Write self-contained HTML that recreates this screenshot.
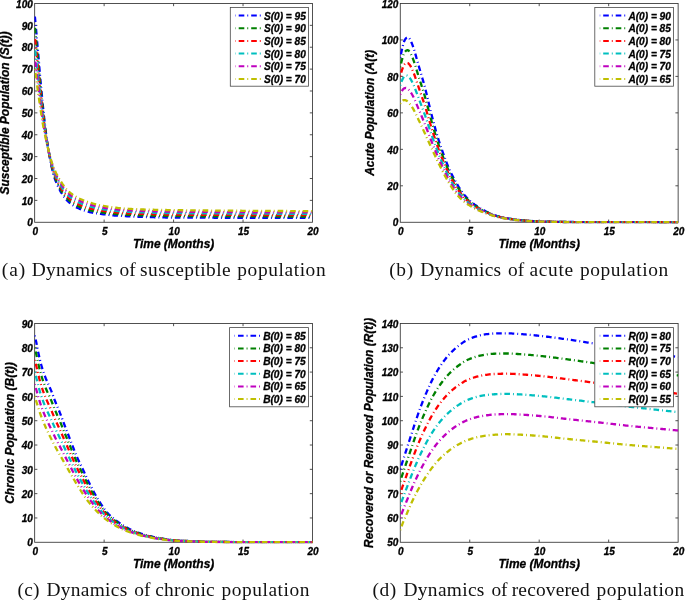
<!DOCTYPE html>
<html lang="en"><head><meta charset="utf-8"><title>Population dynamics</title>
<style>html,body{margin:0;padding:0;background:#fff}svg{display:block;will-change:transform}.t{font-family:"Liberation Sans",Arial,Helvetica,sans-serif;font-weight:bold;font-style:italic;fill:#000;stroke:#000;stroke-width:0.3px;stroke-linejoin:round}.tk{font-size:10px}.lb{font-size:11.95px}.lg{font-size:10.15px}.cap{font-family:"Liberation Serif","Times New Roman",serif;font-size:19.4px;fill:#111}.c{fill:none;stroke-width:2.3;stroke-dasharray:5.6 3 0.9 3;stroke-linejoin:round}.ax{fill:none;stroke:#333;stroke-width:0.85}</style></head><body>
<svg width="685" height="600" viewBox="0 0 685 600">
<rect width="685" height="600" fill="#fff"/>
<g>
<clipPath id="cp0"><rect x="34.47" y="2.47" width="278.53" height="221.1"/></clipPath>
<rect class="ax" x="34.67" y="3.47" width="277.83" height="218.8"/>
<path class="ax" d="M104.13,222.27v-2.7 M104.13,3.47v2.7 M173.58,222.27v-2.7 M173.58,3.47v2.7 M243.04,222.27v-2.7 M243.04,3.47v2.7 M34.67,200.39h2.7 M312.5,200.39h-2.7 M34.67,178.51h2.7 M312.5,178.51h-2.7 M34.67,156.63h2.7 M312.5,156.63h-2.7 M34.67,134.75h2.7 M312.5,134.75h-2.7 M34.67,112.87h2.7 M312.5,112.87h-2.7 M34.67,90.99h2.7 M312.5,90.99h-2.7 M34.67,69.11h2.7 M312.5,69.11h-2.7 M34.67,47.23h2.7 M312.5,47.23h-2.7 M34.67,25.35h2.7 M312.5,25.35h-2.7"/>
<g clip-path="url(#cp0)">
<path class="c" stroke="#0000ff" stroke-dashoffset="10.4" d="M34.67,14.41 34.81,15.84 34.95,17.28 35.09,18.73 35.23,20.19 35.36,21.67 35.5,23.16 35.64,24.67 35.78,26.19 35.92,27.72 36.06,29.27 36.2,30.82 36.34,32.38 36.48,33.95 36.61,35.53 36.75,37.12 36.89,38.71 37.03,40.3 37.17,41.88 37.31,43.47 37.45,45.04 37.59,46.6 37.73,48.15 37.87,49.7 38,51.24 38.14,52.8 38.28,54.38 38.42,55.98 38.56,57.62 38.7,59.3 38.84,61 38.98,62.73 39.12,64.46 39.25,66.19 39.39,67.92 39.53,69.63 39.67,71.32 39.81,72.97 39.95,74.58 40.09,76.15 40.23,77.69 40.37,79.21 40.5,80.71 40.64,82.2 40.78,83.67 40.92,85.14 41.06,86.61 41.2,88.09 41.34,89.56 41.48,91.04 41.62,92.52 41.75,93.99 41.89,95.46 42.03,96.92 42.17,98.38 42.31,99.83 42.45,101.26 42.59,102.69 42.73,104.1 42.87,105.5 43,106.88 43.14,108.24 43.28,109.59 43.42,110.92 43.56,112.25 43.7,113.57 43.84,114.88 43.98,116.18 44.12,117.46 44.26,118.74 44.39,119.99 44.53,121.23 44.67,122.45 44.81,123.65 44.95,124.82 45.09,125.97 45.23,127.09 45.37,128.2 45.51,129.3 45.64,130.4 45.78,131.49 45.92,132.57 46.06,133.65 46.2,134.71 46.34,135.77 46.48,136.82 46.62,137.86 46.76,138.89 46.89,139.91 47.03,140.91 47.17,141.9 47.31,142.88 47.45,143.85 47.59,144.8 47.73,145.73 47.87,146.65 48.01,147.56 48.14,148.44 48.28,149.31 48.42,150.16 48.56,150.98 48.7,151.79 48.84,152.58 49.12,154.1 49.39,155.6 49.67,157.08 49.95,158.54 50.23,159.98 50.51,161.4 50.78,162.79 51.06,164.16 51.34,165.49 51.62,166.8 51.9,168.06 52.17,169.3 52.45,170.49 52.73,171.65 53.01,172.76 53.28,173.82 53.56,174.85 53.84,175.82 54.12,176.74 54.4,177.6 54.67,178.41 54.95,179.17 55.37,180.24 55.79,181.28 56.2,182.3 56.62,183.29 57.04,184.26 57.45,185.2 57.87,186.11 58.29,187 58.7,187.86 59.12,188.7 59.54,189.52 59.95,190.31 60.37,191.08 60.79,191.82 61.2,192.54 61.62,193.24 62.18,194.14 62.73,194.99 63.29,195.81 63.84,196.6 64.4,197.34 64.95,198.05 65.51,198.73 66.06,199.37 66.62,199.98 67.32,200.69 68.01,201.36 68.7,202 69.4,202.61 70.09,203.2 70.79,203.76 71.48,204.29 72.18,204.79 72.87,205.27 73.57,205.73 74.26,206.16 74.96,206.57 75.79,207.03 77.04,207.66 78.43,208.29 79.82,208.88 81.21,209.43 82.6,209.94 83.98,210.43 85.37,210.88 86.76,211.29 88.15,211.68 89.54,212.03 90.93,212.35 92.32,212.64 93.71,212.91 95.1,213.15 96.49,213.37 97.88,213.58 99.27,213.77 100.65,213.96 102.04,214.13 103.43,214.31 104.82,214.48 106.21,214.65 107.6,214.82 108.99,214.98 110.38,215.13 111.77,215.26 113.16,215.38 114.55,215.48 115.94,215.57 117.32,215.67 118.71,215.76 120.1,215.85 121.49,215.93 122.88,216.02 124.27,216.09 125.66,216.17 127.05,216.25 128.44,216.32 129.83,216.39 131.22,216.45 132.61,216.51 133.99,216.58 135.38,216.63 136.77,216.69 138.16,216.74 139.55,216.8 140.94,216.84 142.33,216.89 143.72,216.94 145.11,216.98 146.5,217.02 147.89,217.06 149.27,217.1 150.66,217.13 152.05,217.17 153.44,217.21 154.83,217.24 156.22,217.28 157.61,217.31 159,217.34 160.39,217.37 161.78,217.4 163.17,217.43 164.56,217.46 165.94,217.48 167.33,217.5 168.72,217.52 170.11,217.54 171.5,217.55 172.89,217.56 174.28,217.57 175.67,217.58 177.06,217.59 178.45,217.59 179.84,217.6 181.23,217.61 182.61,217.62 184,217.62 185.39,217.63 186.78,217.64 188.17,217.64 189.56,217.65 190.95,217.65 192.34,217.66 193.73,217.66 195.12,217.67 196.51,217.67 197.9,217.68 199.28,217.68 200.67,217.69 202.06,217.69 203.45,217.7 204.84,217.7 206.23,217.7 207.62,217.71 209.01,217.71 210.4,217.72 211.79,217.72 213.18,217.72 214.56,217.73 215.95,217.73 217.34,217.73 218.73,217.74 220.12,217.74 221.51,217.74 222.9,217.74 224.29,217.75 225.68,217.75 227.07,217.75 228.46,217.76 229.85,217.76 231.23,217.76 232.62,217.76 234.01,217.77 235.4,217.77 236.79,217.77 238.18,217.77 239.57,217.78 240.96,217.78 242.35,217.78 243.74,217.79 245.13,217.79 246.52,217.79 247.9,217.79 249.29,217.8 250.68,217.8 252.07,217.8 253.46,217.81 254.85,217.81 256.24,217.81 257.63,217.81 259.02,217.82 260.41,217.82 261.8,217.82 263.19,217.82 264.57,217.83 265.96,217.83 267.35,217.83 268.74,217.84 270.13,217.84 271.52,217.84 272.91,217.84 274.3,217.84 275.69,217.85 277.08,217.85 278.47,217.85 279.85,217.85 281.24,217.86 282.63,217.86 284.02,217.86 285.41,217.86 286.8,217.86 288.19,217.87 289.58,217.87 290.97,217.87 292.36,217.87 293.75,217.87 295.14,217.88 296.52,217.88 297.91,217.88 299.3,217.88 300.69,217.88 302.08,217.88 303.47,217.89 304.86,217.89 306.25,217.89 307.64,217.89 309.03,217.89 310.42,217.89 311.81,217.89 312.5,217.89"/>
<path class="c" stroke="#008000" stroke-dashoffset="10.04" d="M34.67,25.35 34.81,26.61 34.95,27.89 35.09,29.18 35.23,30.5 35.36,31.82 35.5,33.17 35.64,34.53 35.78,35.92 35.92,37.31 36.06,38.73 36.2,40.17 36.34,41.63 36.48,43.1 36.61,44.59 36.75,46.09 36.89,47.6 37.03,49.1 37.17,50.61 37.31,52.1 37.45,53.58 37.59,55.04 37.73,56.49 37.87,57.93 38,59.36 38.14,60.81 38.28,62.27 38.42,63.74 38.56,65.25 38.7,66.78 38.84,68.34 38.98,69.91 39.12,71.49 39.25,73.07 39.39,74.64 39.53,76.2 39.67,77.74 39.81,79.25 39.95,80.73 40.09,82.17 40.23,83.59 40.37,84.99 40.5,86.38 40.64,87.75 40.78,89.11 40.92,90.47 41.06,91.83 41.2,93.19 41.34,94.55 41.48,95.92 41.62,97.28 41.75,98.64 41.89,100 42.03,101.35 42.17,102.69 42.31,104.02 42.45,105.34 42.59,106.65 42.73,107.94 42.87,109.22 43,110.48 43.14,111.73 43.28,112.95 43.42,114.17 43.56,115.37 43.7,116.57 43.84,117.76 43.98,118.94 44.12,120.11 44.26,121.26 44.39,122.4 44.53,123.52 44.67,124.63 44.81,125.72 44.95,126.79 45.09,127.84 45.23,128.86 45.37,129.88 45.51,130.88 45.64,131.89 45.78,132.89 45.92,133.88 46.06,134.87 46.2,135.85 46.34,136.82 46.48,137.79 46.62,138.74 46.76,139.69 46.89,140.63 47.03,141.55 47.17,142.47 47.31,143.37 47.45,144.27 47.59,145.15 47.73,146.01 47.87,146.87 48.01,147.71 48.14,148.53 48.28,149.34 48.42,150.13 48.7,151.67 48.98,153.13 49.26,154.55 49.53,155.96 49.81,157.35 50.09,158.73 50.37,160.08 50.65,161.41 50.92,162.71 51.2,163.98 51.48,165.22 51.76,166.42 52.03,167.58 52.31,168.71 52.59,169.8 52.87,170.86 53.15,171.88 53.42,172.86 53.7,173.8 53.98,174.69 54.26,175.54 54.53,176.34 54.81,177.1 55.23,178.15 55.65,179.17 56.06,180.17 56.48,181.13 56.9,182.07 57.31,182.97 57.73,183.86 58.15,184.73 58.56,185.57 58.98,186.39 59.4,187.19 59.81,187.97 60.23,188.73 60.65,189.47 61.06,190.18 61.48,190.88 62.04,191.77 62.59,192.63 63.15,193.46 63.7,194.25 64.26,195 64.81,195.73 65.37,196.41 65.93,197.07 66.48,197.69 67.04,198.28 67.73,198.98 68.43,199.64 69.12,200.27 69.82,200.86 70.51,201.43 71.2,201.97 71.9,202.49 72.59,202.98 73.29,203.45 73.98,203.9 74.68,204.32 75.37,204.72 76.21,205.18 77.04,205.61 78.43,206.26 79.82,206.86 81.21,207.43 82.6,207.96 83.98,208.46 85.37,208.92 86.76,209.35 88.15,209.76 89.54,210.13 90.93,210.47 92.32,210.79 93.71,211.08 95.1,211.35 96.49,211.59 97.88,211.83 99.27,212.05 100.65,212.25 102.04,212.45 103.43,212.64 104.82,212.82 106.21,213 107.6,213.18 108.99,213.35 110.38,213.51 111.77,213.66 113.16,213.78 114.55,213.9 115.94,214.01 117.32,214.12 118.71,214.22 120.1,214.32 121.49,214.41 122.88,214.5 124.27,214.58 125.66,214.66 127.05,214.74 128.44,214.81 129.83,214.88 131.22,214.95 132.61,215.02 133.99,215.08 135.38,215.14 136.77,215.2 138.16,215.25 139.55,215.31 140.94,215.36 142.33,215.4 143.72,215.45 145.11,215.49 146.5,215.53 147.89,215.57 149.27,215.61 150.66,215.65 152.05,215.68 153.44,215.72 154.83,215.75 156.22,215.79 157.61,215.82 159,215.85 160.39,215.88 161.78,215.91 163.17,215.94 164.56,215.96 165.94,215.99 167.33,216.01 168.72,216.03 170.11,216.04 171.5,216.06 172.89,216.07 174.28,216.08 175.67,216.09 177.06,216.1 178.45,216.11 179.84,216.12 181.23,216.13 182.61,216.14 184,216.15 185.39,216.16 186.78,216.17 188.17,216.17 189.56,216.18 190.95,216.19 192.34,216.2 193.73,216.21 195.12,216.21 196.51,216.22 197.9,216.23 199.28,216.23 200.67,216.24 202.06,216.25 203.45,216.25 204.84,216.26 206.23,216.26 207.62,216.27 209.01,216.27 210.4,216.28 211.79,216.29 213.18,216.29 214.56,216.3 215.95,216.3 217.34,216.31 218.73,216.31 220.12,216.31 221.51,216.32 222.9,216.32 224.29,216.33 225.68,216.33 227.07,216.34 228.46,216.34 229.85,216.35 231.23,216.35 232.62,216.35 234.01,216.36 235.4,216.36 236.79,216.37 238.18,216.37 239.57,216.37 240.96,216.38 242.35,216.38 243.74,216.39 245.13,216.39 246.52,216.39 247.9,216.4 249.29,216.4 250.68,216.41 252.07,216.41 253.46,216.41 254.85,216.42 256.24,216.42 257.63,216.43 259.02,216.43 260.41,216.43 261.8,216.44 263.19,216.44 264.57,216.44 265.96,216.45 267.35,216.45 268.74,216.46 270.13,216.46 271.52,216.46 272.91,216.47 274.3,216.47 275.69,216.47 277.08,216.48 278.47,216.48 279.85,216.48 281.24,216.48 282.63,216.49 284.02,216.49 285.41,216.49 286.8,216.5 288.19,216.5 289.58,216.5 290.97,216.5 292.36,216.51 293.75,216.51 295.14,216.51 296.52,216.51 297.91,216.52 299.3,216.52 300.69,216.52 302.08,216.52 303.47,216.53 304.86,216.53 306.25,216.53 307.64,216.53 309.03,216.53 310.42,216.54 311.81,216.54 312.5,216.54"/>
<path class="c" stroke="#ff0000" stroke-dashoffset="9.68" d="M34.67,36.29 34.81,37.38 34.95,38.5 35.09,39.64 35.23,40.8 35.36,41.98 35.5,43.18 35.64,44.4 35.78,45.64 35.92,46.9 36.06,48.19 36.2,49.52 36.34,50.87 36.48,52.25 36.61,53.65 36.75,55.06 36.89,56.49 37.03,57.91 37.17,59.33 37.31,60.73 37.45,62.12 37.59,63.48 37.73,64.82 37.87,66.16 38,67.48 38.14,68.81 38.28,70.15 38.42,71.51 38.56,72.88 38.7,74.27 38.84,75.68 38.98,77.09 39.12,78.52 39.25,79.94 39.39,81.36 39.53,82.77 39.67,84.16 39.81,85.53 39.95,86.87 40.09,88.19 40.23,89.49 40.37,90.77 40.5,92.04 40.64,93.3 40.78,94.55 40.92,95.8 41.06,97.04 41.2,98.29 41.34,99.54 41.48,100.8 41.62,102.05 41.75,103.29 41.89,104.53 42.03,105.77 42.17,107 42.31,108.21 42.45,109.42 42.59,110.61 42.73,111.79 42.87,112.95 43,114.09 43.14,115.21 43.28,116.32 43.42,117.41 43.56,118.5 43.7,119.58 43.84,120.65 43.98,121.7 44.12,122.75 44.26,123.79 44.39,124.81 44.53,125.82 44.67,126.81 44.81,127.79 44.95,128.76 45.09,129.7 45.23,130.63 45.37,131.55 45.51,132.47 45.64,133.38 45.78,134.29 45.92,135.19 46.06,136.09 46.2,136.98 46.34,137.87 46.48,138.75 46.62,139.62 46.76,140.49 46.89,141.35 47.03,142.2 47.17,143.04 47.31,143.87 47.45,144.69 47.59,145.49 47.73,146.29 48.01,147.86 48.28,149.37 48.56,150.83 48.84,152.23 49.12,153.58 49.39,154.91 49.67,156.24 49.95,157.54 50.23,158.83 50.51,160.09 50.78,161.33 51.06,162.54 51.34,163.71 51.62,164.85 51.9,165.94 52.17,167 52.45,168.03 52.73,169.03 53.01,170 53.28,170.93 53.56,171.83 53.84,172.69 54.12,173.51 54.4,174.3 54.81,175.4 55.23,176.42 55.65,177.41 56.06,178.37 56.48,179.3 56.9,180.19 57.31,181.06 57.73,181.92 58.15,182.75 58.56,183.56 58.98,184.36 59.4,185.14 59.81,185.9 60.23,186.64 60.65,187.36 61.06,188.06 61.48,188.75 62.04,189.63 62.59,190.48 63.15,191.3 63.7,192.09 64.26,192.85 64.81,193.57 65.37,194.27 65.93,194.93 66.48,195.56 67.04,196.16 67.73,196.86 68.43,197.53 69.12,198.16 69.82,198.75 70.51,199.32 71.2,199.86 71.9,200.38 72.59,200.88 73.29,201.35 73.98,201.8 74.68,202.24 75.37,202.65 76.21,203.11 77.04,203.55 78.43,204.22 79.82,204.85 81.21,205.43 82.6,205.98 83.98,206.49 85.37,206.97 86.76,207.42 88.15,207.84 89.54,208.23 90.93,208.6 92.32,208.93 93.71,209.25 95.1,209.54 96.49,209.82 97.88,210.08 99.27,210.32 100.65,210.55 102.04,210.77 103.43,210.97 104.82,211.16 106.21,211.35 107.6,211.54 108.99,211.72 110.38,211.89 111.77,212.05 113.16,212.19 114.55,212.32 115.94,212.45 117.32,212.57 118.71,212.68 120.1,212.79 121.49,212.89 122.88,212.98 124.27,213.07 125.66,213.15 127.05,213.23 128.44,213.31 129.83,213.38 131.22,213.45 132.61,213.52 133.99,213.59 135.38,213.65 136.77,213.71 138.16,213.76 139.55,213.82 140.94,213.87 142.33,213.91 143.72,213.96 145.11,214 146.5,214.04 147.89,214.08 149.27,214.12 150.66,214.16 152.05,214.19 153.44,214.23 154.83,214.26 156.22,214.3 157.61,214.33 159,214.36 160.39,214.39 161.78,214.42 163.17,214.44 164.56,214.47 165.94,214.49 167.33,214.51 168.72,214.53 170.11,214.55 171.5,214.57 172.89,214.58 174.28,214.6 175.67,214.61 177.06,214.62 178.45,214.63 179.84,214.64 181.23,214.66 182.61,214.67 184,214.68 185.39,214.69 186.78,214.7 188.17,214.71 189.56,214.72 190.95,214.73 192.34,214.74 193.73,214.75 195.12,214.76 196.51,214.76 197.9,214.77 199.28,214.78 200.67,214.79 202.06,214.8 203.45,214.81 204.84,214.81 206.23,214.82 207.62,214.83 209.01,214.84 210.4,214.84 211.79,214.85 213.18,214.86 214.56,214.86 215.95,214.87 217.34,214.88 218.73,214.88 220.12,214.89 221.51,214.9 222.9,214.9 224.29,214.91 225.68,214.92 227.07,214.92 228.46,214.93 229.85,214.93 231.23,214.94 232.62,214.94 234.01,214.95 235.4,214.95 236.79,214.96 238.18,214.97 239.57,214.97 240.96,214.98 242.35,214.98 243.74,214.99 245.13,214.99 246.52,215 247.9,215 249.29,215.01 250.68,215.01 252.07,215.02 253.46,215.02 254.85,215.03 256.24,215.03 257.63,215.04 259.02,215.04 260.41,215.05 261.8,215.05 263.19,215.06 264.57,215.06 265.96,215.07 267.35,215.07 268.74,215.07 270.13,215.08 271.52,215.08 272.91,215.09 274.3,215.09 275.69,215.1 277.08,215.1 278.47,215.1 279.85,215.11 281.24,215.11 282.63,215.12 284.02,215.12 285.41,215.12 286.8,215.13 288.19,215.13 289.58,215.14 290.97,215.14 292.36,215.14 293.75,215.15 295.14,215.15 296.52,215.15 297.91,215.15 299.3,215.16 300.69,215.16 302.08,215.16 303.47,215.17 304.86,215.17 306.25,215.17 307.64,215.17 309.03,215.18 310.42,215.18 311.81,215.18 312.5,215.18"/>
<path class="c" stroke="#00bfbf" stroke-dashoffset="9.32" d="M34.67,47.23 34.81,48.16 34.95,49.11 35.09,50.09 35.23,51.1 35.36,52.13 35.5,53.18 35.64,54.26 35.78,55.37 35.92,56.49 36.06,57.66 36.2,58.87 36.34,60.12 36.48,61.4 36.61,62.71 36.75,64.04 36.89,65.38 37.03,66.72 37.17,68.05 37.31,69.37 37.45,70.66 37.59,71.92 37.73,73.16 37.87,74.38 38,75.6 38.14,76.82 38.28,78.04 38.42,79.27 38.56,80.5 38.7,81.75 38.84,83.01 38.98,84.28 39.12,85.55 39.25,86.82 39.39,88.08 39.53,89.34 39.67,90.58 39.81,91.81 39.95,93.02 40.09,94.21 40.23,95.39 40.37,96.55 40.5,97.71 40.64,98.85 40.78,99.99 40.92,101.12 41.06,102.26 41.2,103.39 41.34,104.53 41.48,105.67 41.62,106.81 41.75,107.94 41.89,109.07 42.03,110.19 42.17,111.31 42.31,112.41 42.45,113.5 42.59,114.57 42.73,115.63 42.87,116.67 43,117.69 43.14,118.7 43.28,119.68 43.42,120.66 43.56,121.63 43.7,122.58 43.84,123.53 43.98,124.47 44.12,125.4 44.26,126.31 44.39,127.22 44.53,128.11 44.67,128.99 44.81,129.87 44.95,130.72 45.09,131.57 45.23,132.4 45.37,133.23 45.51,134.05 45.64,134.87 45.78,135.69 45.92,136.5 46.06,137.31 46.2,138.12 46.34,138.92 46.48,139.72 46.62,140.51 46.89,142.07 47.17,143.6 47.45,145.1 47.73,146.57 48.01,148.01 48.28,149.4 48.56,150.75 48.84,152.06 49.12,153.32 49.39,154.57 49.67,155.81 49.95,157.04 50.23,158.25 50.51,159.44 50.78,160.6 51.06,161.73 51.34,162.82 51.62,163.87 51.9,164.88 52.17,165.85 52.45,166.8 52.73,167.72 53.01,168.61 53.28,169.48 53.56,170.32 53.84,171.12 54.12,171.9 54.53,173.01 54.95,174.04 55.37,175.02 55.79,175.96 56.2,176.87 56.62,177.75 57.04,178.6 57.45,179.43 57.87,180.24 58.29,181.03 58.7,181.82 59.12,182.58 59.54,183.33 59.95,184.06 60.37,184.78 60.79,185.48 61.2,186.17 61.76,187.06 62.31,187.92 62.87,188.75 63.43,189.55 63.98,190.32 64.54,191.06 65.09,191.77 65.65,192.46 66.2,193.11 66.76,193.73 67.32,194.32 68.01,195.02 68.7,195.68 69.4,196.29 70.09,196.87 70.79,197.43 71.48,197.97 72.18,198.48 72.87,198.97 73.57,199.44 74.26,199.89 74.96,200.32 75.65,200.73 77.04,201.49 78.43,202.19 79.82,202.83 81.21,203.43 82.6,203.99 83.98,204.52 85.37,205.02 86.76,205.48 88.15,205.92 89.54,206.33 90.93,206.72 92.32,207.08 93.71,207.42 95.1,207.74 96.49,208.04 97.88,208.32 99.27,208.6 100.65,208.85 102.04,209.08 103.43,209.3 104.82,209.51 106.21,209.7 107.6,209.9 108.99,210.09 110.38,210.27 111.77,210.44 113.16,210.6 114.55,210.74 115.94,210.88 117.32,211.02 118.71,211.14 120.1,211.26 121.49,211.37 122.88,211.47 124.27,211.56 125.66,211.64 127.05,211.73 128.44,211.81 129.83,211.88 131.22,211.95 132.61,212.02 133.99,212.09 135.38,212.15 136.77,212.21 138.16,212.27 139.55,212.33 140.94,212.38 142.33,212.43 143.72,212.47 145.11,212.51 146.5,212.56 147.89,212.59 149.27,212.63 150.66,212.67 152.05,212.71 153.44,212.74 154.83,212.77 156.22,212.81 157.61,212.84 159,212.87 160.39,212.9 161.78,212.92 163.17,212.95 164.56,212.98 165.94,213 167.33,213.02 168.72,213.04 170.11,213.06 171.5,213.08 172.89,213.09 174.28,213.11 175.67,213.12 177.06,213.14 178.45,213.15 179.84,213.17 181.23,213.18 182.61,213.19 184,213.21 185.39,213.22 186.78,213.23 188.17,213.24 189.56,213.25 190.95,213.27 192.34,213.28 193.73,213.29 195.12,213.3 196.51,213.31 197.9,213.32 199.28,213.33 200.67,213.34 202.06,213.35 203.45,213.36 204.84,213.37 206.23,213.38 207.62,213.39 209.01,213.4 210.4,213.41 211.79,213.42 213.18,213.43 214.56,213.43 215.95,213.44 217.34,213.45 218.73,213.46 220.12,213.47 221.51,213.47 222.9,213.48 224.29,213.49 225.68,213.5 227.07,213.51 228.46,213.51 229.85,213.52 231.23,213.53 232.62,213.53 234.01,213.54 235.4,213.55 236.79,213.55 238.18,213.56 239.57,213.57 240.96,213.57 242.35,213.58 243.74,213.59 245.13,213.59 246.52,213.6 247.9,213.61 249.29,213.61 250.68,213.62 252.07,213.62 253.46,213.63 254.85,213.64 256.24,213.64 257.63,213.65 259.02,213.65 260.41,213.66 261.8,213.67 263.19,213.67 264.57,213.68 265.96,213.68 267.35,213.69 268.74,213.69 270.13,213.7 271.52,213.71 272.91,213.71 274.3,213.72 275.69,213.72 277.08,213.73 278.47,213.73 279.85,213.74 281.24,213.74 282.63,213.75 284.02,213.75 285.41,213.76 286.8,213.76 288.19,213.76 289.58,213.77 290.97,213.77 292.36,213.78 293.75,213.78 295.14,213.78 296.52,213.79 297.91,213.79 299.3,213.8 300.69,213.8 302.08,213.8 303.47,213.81 304.86,213.81 306.25,213.81 307.64,213.82 309.03,213.82 310.42,213.82 311.81,213.82 312.5,213.82"/>
<path class="c" stroke="#bf00bf" stroke-dashoffset="8.96" d="M34.67,58.17 34.95,59.72 35.09,60.54 35.23,61.4 35.36,62.28 35.5,63.19 35.64,64.13 35.78,65.09 35.92,66.08 36.06,67.12 36.2,68.21 36.34,69.36 36.48,70.55 36.61,71.77 36.75,73.01 36.89,74.27 37.03,75.52 37.17,76.77 37.31,78 37.45,79.2 37.59,80.36 37.73,81.49 37.87,82.61 38,83.72 38.14,84.83 38.28,85.93 38.42,87.03 38.56,88.13 38.7,89.24 38.84,90.35 38.98,91.46 39.12,92.58 39.25,93.69 39.39,94.8 39.53,95.91 39.67,97 39.81,98.09 39.95,99.16 40.09,100.23 40.23,101.28 40.37,102.33 40.5,103.37 40.64,104.4 40.78,105.43 40.92,106.45 41.06,107.47 41.2,108.5 41.34,109.52 41.48,110.55 41.62,111.57 41.75,112.59 41.89,113.61 42.03,114.62 42.17,115.62 42.31,116.6 42.45,117.58 42.59,118.54 42.73,119.48 42.87,120.4 43,121.3 43.14,122.18 43.28,123.05 43.42,123.91 43.56,124.75 43.7,125.59 43.84,126.42 43.98,127.23 44.12,128.04 44.26,128.84 44.39,129.63 44.67,131.18 44.95,132.69 45.23,134.18 45.51,135.64 45.78,137.09 46.06,138.54 46.34,139.97 46.62,141.39 46.89,142.79 47.17,144.17 47.45,145.52 47.73,146.85 48.01,148.16 48.28,149.43 48.56,150.67 48.84,151.88 49.12,153.06 49.39,154.23 49.67,155.39 49.95,156.54 50.23,157.67 50.51,158.78 50.78,159.87 51.06,160.91 51.34,161.93 51.62,162.9 51.9,163.82 52.17,164.7 52.45,165.57 52.73,166.41 53.01,167.23 53.28,168.03 53.56,168.81 53.84,169.56 54.26,170.64 54.67,171.67 55.09,172.65 55.51,173.58 55.92,174.48 56.34,175.35 56.76,176.18 57.17,176.98 57.59,177.76 58.01,178.54 58.42,179.3 58.84,180.05 59.26,180.78 59.67,181.51 60.09,182.22 60.51,182.91 61.06,183.82 61.62,184.7 62.18,185.56 62.73,186.39 63.29,187.2 63.84,187.97 64.4,188.72 64.95,189.45 65.51,190.14 66.06,190.81 66.62,191.44 67.18,192.05 67.73,192.63 68.43,193.31 69.12,193.94 69.82,194.54 70.51,195.1 71.2,195.65 71.9,196.17 72.59,196.67 73.29,197.16 73.98,197.62 74.68,198.06 75.37,198.49 76.07,198.89 77.04,199.43 78.43,200.15 79.82,200.82 81.21,201.43 82.6,202.01 83.98,202.55 85.37,203.06 86.76,203.55 88.15,204 89.54,204.43 90.93,204.84 92.32,205.23 93.71,205.59 95.1,205.93 96.49,206.26 97.88,206.57 99.27,206.87 100.65,207.15 102.04,207.4 103.43,207.63 104.82,207.85 106.21,208.05 107.6,208.26 108.99,208.46 110.38,208.65 111.77,208.83 113.16,209 114.55,209.16 115.94,209.32 117.32,209.47 118.71,209.6 120.1,209.73 121.49,209.85 122.88,209.95 124.27,210.05 125.66,210.14 127.05,210.22 128.44,210.3 129.83,210.38 131.22,210.46 132.61,210.53 133.99,210.6 135.38,210.66 136.77,210.72 138.16,210.78 139.55,210.83 140.94,210.89 142.33,210.94 143.72,210.98 145.11,211.03 146.5,211.07 147.89,211.11 149.27,211.14 150.66,211.18 152.05,211.22 153.44,211.25 154.83,211.28 156.22,211.32 157.61,211.35 159,211.38 160.39,211.4 161.78,211.43 163.17,211.46 164.56,211.48 165.94,211.51 167.33,211.53 168.72,211.55 170.11,211.57 171.5,211.59 172.89,211.61 174.28,211.62 175.67,211.64 177.06,211.66 178.45,211.67 179.84,211.69 181.23,211.7 182.61,211.72 184,211.73 185.39,211.75 186.78,211.76 188.17,211.78 189.56,211.79 190.95,211.8 192.34,211.82 193.73,211.83 195.12,211.84 196.51,211.86 197.9,211.87 199.28,211.88 200.67,211.89 202.06,211.91 203.45,211.92 204.84,211.93 206.23,211.94 207.62,211.95 209.01,211.96 210.4,211.97 211.79,211.98 213.18,211.99 214.56,212 215.95,212.01 217.34,212.02 218.73,212.03 220.12,212.04 221.51,212.05 222.9,212.06 224.29,212.07 225.68,212.08 227.07,212.09 228.46,212.1 229.85,212.11 231.23,212.12 232.62,212.12 234.01,212.13 235.4,212.14 236.79,212.15 238.18,212.16 239.57,212.16 240.96,212.17 242.35,212.18 243.74,212.19 245.13,212.19 246.52,212.2 247.9,212.21 249.29,212.22 250.68,212.22 252.07,212.23 253.46,212.24 254.85,212.25 256.24,212.25 257.63,212.26 259.02,212.27 260.41,212.27 261.8,212.28 263.19,212.29 264.57,212.29 265.96,212.3 267.35,212.31 268.74,212.31 270.13,212.32 271.52,212.33 272.91,212.33 274.3,212.34 275.69,212.35 277.08,212.35 278.47,212.36 279.85,212.36 281.24,212.37 282.63,212.38 284.02,212.38 285.41,212.39 286.8,212.39 288.19,212.4 289.58,212.4 290.97,212.41 292.36,212.41 293.75,212.42 295.14,212.42 296.52,212.43 297.91,212.43 299.3,212.43 300.69,212.44 302.08,212.44 303.47,212.45 304.86,212.45 306.25,212.45 307.64,212.46 309.03,212.46 310.42,212.46 311.81,212.47 312.5,212.47"/>
<path class="c" stroke="#bfbf00" stroke-dashoffset="8.6" d="M34.67,69.11 34.95,70.33 35.23,71.7 35.5,73.2 35.64,73.99 35.78,74.82 35.92,75.67 36.06,76.58 36.2,77.56 36.34,78.61 36.48,79.7 36.61,80.83 36.75,81.99 36.89,83.16 37.03,84.33 37.17,85.49 37.31,86.63 37.45,87.74 37.59,88.8 37.73,89.83 37.87,90.84 38,91.84 38.14,92.83 38.28,93.82 38.42,94.79 38.56,95.76 38.7,96.72 38.84,97.69 38.98,98.65 39.12,99.61 39.25,100.57 39.39,101.52 39.53,102.47 39.67,103.42 39.81,104.37 39.95,105.31 40.09,106.25 40.23,107.18 40.37,108.11 40.5,109.03 40.64,109.95 40.78,110.87 40.92,111.78 41.06,112.68 41.2,113.6 41.34,114.51 41.48,115.43 41.62,116.34 41.75,117.25 41.89,118.15 42.03,119.04 42.17,119.93 42.31,120.8 42.45,121.66 42.59,122.5 42.73,123.32 42.87,124.12 43.14,125.67 43.42,127.15 43.7,128.6 43.98,130 44.26,131.36 44.53,132.7 44.81,134.01 45.09,135.31 45.37,136.59 45.64,137.86 45.92,139.13 46.2,140.39 46.48,141.65 46.76,142.89 47.03,144.12 47.31,145.34 47.59,146.54 47.87,147.72 48.14,148.89 48.42,150.03 48.7,151.15 48.98,152.25 49.26,153.34 49.53,154.43 49.81,155.51 50.09,156.57 50.37,157.62 50.65,158.64 50.92,159.62 51.2,160.58 51.48,161.48 51.76,162.35 52.03,163.16 52.31,163.95 52.59,164.72 52.87,165.48 53.28,166.58 53.7,167.65 54.12,168.68 54.53,169.67 54.95,170.62 55.37,171.53 55.79,172.41 56.2,173.25 56.62,174.06 57.04,174.82 57.45,175.58 57.87,176.32 58.29,177.06 58.7,177.78 59.12,178.5 59.54,179.21 59.95,179.9 60.37,180.59 60.92,181.48 61.48,182.35 62.04,183.21 62.59,184.04 63.15,184.84 63.7,185.63 64.26,186.38 64.81,187.12 65.37,187.82 65.93,188.5 66.48,189.15 67.04,189.77 67.59,190.37 68.29,191.06 68.98,191.71 69.68,192.31 70.37,192.88 71.07,193.43 71.76,193.96 72.45,194.47 73.15,194.96 73.84,195.43 74.54,195.89 75.23,196.32 75.93,196.74 77.04,197.38 78.43,198.12 79.82,198.8 81.21,199.43 82.6,200.02 83.98,200.58 85.37,201.11 86.76,201.61 88.15,202.08 89.54,202.54 90.93,202.96 92.32,203.37 93.71,203.76 95.1,204.13 96.49,204.48 97.88,204.82 99.27,205.14 100.65,205.44 102.04,205.72 103.43,205.97 104.82,206.19 106.21,206.41 107.6,206.62 108.99,206.83 110.38,207.03 111.77,207.22 113.16,207.41 114.55,207.59 115.94,207.76 117.32,207.92 118.71,208.06 120.1,208.2 121.49,208.32 122.88,208.44 124.27,208.53 125.66,208.63 127.05,208.71 128.44,208.8 129.83,208.88 131.22,208.96 132.61,209.03 133.99,209.1 135.38,209.17 136.77,209.23 138.16,209.29 139.55,209.34 140.94,209.4 142.33,209.45 143.72,209.49 145.11,209.54 146.5,209.58 147.89,209.62 149.27,209.66 150.66,209.69 152.05,209.73 153.44,209.76 154.83,209.79 156.22,209.82 157.61,209.85 159,209.88 160.39,209.91 161.78,209.94 163.17,209.96 164.56,209.99 165.94,210.01 167.33,210.03 168.72,210.06 170.11,210.08 171.5,210.1 172.89,210.12 174.28,210.14 175.67,210.15 177.06,210.17 178.45,210.19 179.84,210.21 181.23,210.23 182.61,210.24 184,210.26 185.39,210.28 186.78,210.29 188.17,210.31 189.56,210.33 190.95,210.34 192.34,210.36 193.73,210.37 195.12,210.39 196.51,210.4 197.9,210.42 199.28,210.43 200.67,210.44 202.06,210.46 203.45,210.47 204.84,210.49 206.23,210.5 207.62,210.51 209.01,210.52 210.4,210.54 211.79,210.55 213.18,210.56 214.56,210.57 215.95,210.59 217.34,210.6 218.73,210.61 220.12,210.62 221.51,210.63 222.9,210.64 224.29,210.65 225.68,210.66 227.07,210.67 228.46,210.68 229.85,210.69 231.23,210.7 232.62,210.71 234.01,210.72 235.4,210.73 236.79,210.74 238.18,210.75 239.57,210.76 240.96,210.77 242.35,210.78 243.74,210.79 245.13,210.8 246.52,210.8 247.9,210.81 249.29,210.82 250.68,210.83 252.07,210.84 253.46,210.85 254.85,210.86 256.24,210.86 257.63,210.87 259.02,210.88 260.41,210.89 261.8,210.9 263.19,210.9 264.57,210.91 265.96,210.92 267.35,210.93 268.74,210.93 270.13,210.94 271.52,210.95 272.91,210.96 274.3,210.96 275.69,210.97 277.08,210.98 278.47,210.98 279.85,210.99 281.24,211 282.63,211 284.02,211.01 285.41,211.02 286.8,211.02 288.19,211.03 289.58,211.04 290.97,211.04 292.36,211.05 293.75,211.05 295.14,211.06 296.52,211.06 297.91,211.07 299.3,211.07 300.69,211.08 302.08,211.08 303.47,211.09 304.86,211.09 306.25,211.09 307.64,211.1 309.03,211.1 310.42,211.11 311.81,211.11 312.5,211.11"/>
</g>
<text class="t tk" x="35.27" y="234.87" text-anchor="middle">0</text>
<text class="t tk" x="104.73" y="234.87" text-anchor="middle">5</text>
<text class="t tk" x="174.18" y="234.87" text-anchor="middle">10</text>
<text class="t tk" x="243.64" y="234.87" text-anchor="middle">15</text>
<text class="t tk" x="313.1" y="234.87" text-anchor="middle">20</text>
<text class="t tk" x="32.77" y="226.47" text-anchor="end">0</text>
<text class="t tk" x="32.77" y="204.59" text-anchor="end">10</text>
<text class="t tk" x="32.77" y="182.71" text-anchor="end">20</text>
<text class="t tk" x="32.77" y="160.83" text-anchor="end">30</text>
<text class="t tk" x="32.77" y="138.95" text-anchor="end">40</text>
<text class="t tk" x="32.77" y="117.07" text-anchor="end">50</text>
<text class="t tk" x="32.77" y="95.19" text-anchor="end">60</text>
<text class="t tk" x="32.77" y="73.31" text-anchor="end">70</text>
<text class="t tk" x="32.77" y="51.43" text-anchor="end">80</text>
<text class="t tk" x="32.77" y="29.55" text-anchor="end">90</text>
<text class="t tk" x="32.77" y="7.67" text-anchor="end">100</text>
<text class="t lb" x="173.59" y="248.07" text-anchor="middle">Time (Months)</text>
<text class="t lb" transform="translate(8.8,112.87) rotate(-90)" text-anchor="middle">Susceptible Population (S(t))</text>
<rect x="230.3" y="7.4" width="78.2" height="78.8" fill="#fff" stroke="#484848" stroke-width="0.8"/>
<path class="c" style="stroke-width:2" stroke="#0000ff" stroke-dashoffset="9.1" d="M235.3,15.6H261.3"/>
<text class="t lg" x="263.9" y="19.6">S(0) = 95</text>
<path class="c" style="stroke-width:2" stroke="#008000" stroke-dashoffset="9.1" d="M235.3,28.26H261.3"/>
<text class="t lg" x="263.9" y="32.26">S(0) = 90</text>
<path class="c" style="stroke-width:2" stroke="#ff0000" stroke-dashoffset="9.1" d="M235.3,40.92H261.3"/>
<text class="t lg" x="263.9" y="44.92">S(0) = 85</text>
<path class="c" style="stroke-width:2" stroke="#00bfbf" stroke-dashoffset="9.1" d="M235.3,53.58H261.3"/>
<text class="t lg" x="263.9" y="57.58">S(0) = 80</text>
<path class="c" style="stroke-width:2" stroke="#bf00bf" stroke-dashoffset="9.1" d="M235.3,66.24H261.3"/>
<text class="t lg" x="263.9" y="70.24">S(0) = 75</text>
<path class="c" style="stroke-width:2" stroke="#bfbf00" stroke-dashoffset="9.1" d="M235.3,78.9H261.3"/>
<text class="t lg" x="263.9" y="82.9">S(0) = 70</text>
</g>
<g>
<clipPath id="cp1"><rect x="400.07" y="2.47" width="278.56" height="221.1"/></clipPath>
<rect class="ax" x="400.27" y="3.47" width="277.86" height="218.8"/>
<path class="ax" d="M469.74,222.27v-2.7 M469.74,3.47v2.7 M539.2,222.27v-2.7 M539.2,3.47v2.7 M608.66,222.27v-2.7 M608.66,3.47v2.7 M400.27,185.8h2.7 M678.13,185.8h-2.7 M400.27,149.34h2.7 M678.13,149.34h-2.7 M400.27,112.87h2.7 M678.13,112.87h-2.7 M400.27,76.4h2.7 M678.13,76.4h-2.7 M400.27,39.94h2.7 M678.13,39.94h-2.7"/>
<g clip-path="url(#cp1)">
<path class="c" stroke="#0000ff" stroke-dashoffset="8.6" d="M400.27,58.17 400.41,57.37 400.55,56.58 400.83,55.05 401.1,53.59 401.38,52.19 401.66,50.86 401.94,49.59 402.22,48.37 402.49,47.22 402.77,46.15 403.05,45.07 403.33,44.01 403.6,43 403.88,42.08 404.16,41.29 404.58,40.4 404.99,39.68 405.55,38.85 406.11,38.2 406.8,37.66 407.63,37.24 408.47,37.42 409.16,38.14 409.72,38.84 410.27,39.72 410.69,40.57 411.11,41.53 411.52,42.55 411.94,43.6 412.36,44.66 412.77,45.79 413.05,46.58 413.33,47.4 413.61,48.24 413.89,49.1 414.16,49.97 414.44,50.86 414.72,51.78 415,52.72 415.27,53.69 415.55,54.67 415.83,55.67 416.11,56.68 416.39,57.69 416.66,58.7 416.94,59.71 417.22,60.71 417.5,61.69 417.78,62.67 418.05,63.63 418.33,64.59 418.61,65.54 418.89,66.49 419.16,67.43 419.44,68.37 419.72,69.31 420,70.24 420.28,71.18 420.55,72.11 420.83,73.05 421.11,73.99 421.39,74.93 421.67,75.87 421.94,76.82 422.22,77.77 422.5,78.72 422.78,79.69 423.05,80.66 423.33,81.63 423.61,82.62 423.89,83.62 424.17,84.62 424.44,85.64 424.72,86.67 425,87.71 425.28,88.77 425.56,89.85 425.83,90.94 426.11,92.06 426.39,93.19 426.67,94.33 426.94,95.49 427.22,96.65 427.5,97.82 427.78,99 428.06,100.18 428.33,101.36 428.61,102.55 428.89,103.73 429.17,104.9 429.45,106.07 429.72,107.24 430,108.39 430.28,109.53 430.56,110.66 430.83,111.78 431.11,112.88 431.39,113.96 431.67,115.03 431.95,116.11 432.22,117.18 432.5,118.25 432.78,119.32 433.06,120.39 433.34,121.45 433.61,122.5 433.89,123.55 434.17,124.59 434.45,125.63 434.72,126.65 435,127.67 435.28,128.68 435.56,129.69 435.84,130.68 436.11,131.66 436.39,132.63 436.67,133.59 436.95,134.54 437.23,135.47 437.5,136.39 437.78,137.3 438.06,138.2 438.34,139.09 438.61,139.98 438.89,140.85 439.17,141.72 439.45,142.58 439.73,143.43 440,144.28 440.28,145.12 440.56,145.95 440.84,146.77 441.12,147.58 441.39,148.39 441.67,149.19 441.95,149.99 442.64,151.94 443.34,153.86 444.03,155.74 444.73,157.61 445.42,159.46 446.12,161.29 446.81,163.09 447.51,164.86 448.2,166.58 448.9,168.24 449.59,169.85 450.28,171.39 450.98,172.84 451.67,174.23 452.37,175.59 453.06,176.93 453.76,178.25 454.45,179.54 455.15,180.81 455.84,182.05 456.54,183.26 457.23,184.45 457.93,185.61 458.62,186.74 459.32,187.85 460.01,188.92 460.7,189.95 461.4,190.96 462.09,191.93 462.79,192.87 463.48,193.77 464.18,194.64 464.87,195.47 465.57,196.26 466.26,197.04 466.96,197.78 467.65,198.51 468.35,199.21 469.04,199.89 469.74,200.54 470.43,201.18 471.12,201.79 471.82,202.38 472.51,202.96 473.21,203.51 473.9,204.05 474.6,204.56 475.29,205.07 475.99,205.55 476.68,206.03 477.38,206.5 478.07,206.96 478.77,207.4 479.46,207.83 480.15,208.26 480.85,208.67 481.54,209.07 482.93,209.85 484.32,210.58 485.71,211.28 487.1,211.93 488.49,212.56 489.88,213.17 491.27,213.77 492.66,214.34 494.05,214.87 495.44,215.38 496.83,215.85 498.22,216.27 499.6,216.64 500.99,216.97 502.38,217.29 503.77,217.59 505.16,217.88 506.55,218.16 507.94,218.42 509.33,218.67 510.72,218.9 512.11,219.11 513.5,219.32 514.89,219.5 516.28,219.67 517.67,219.83 519.06,219.97 520.44,220.1 521.83,220.23 523.22,220.36 524.61,220.48 526,220.59 527.39,220.7 528.78,220.8 530.17,220.89 531.56,220.98 532.95,221.07 534.34,221.14 535.73,221.21 537.12,221.28 538.51,221.33 539.89,221.38 541.28,221.43 542.67,221.48 544.06,221.52 545.45,221.57 546.84,221.61 548.23,221.65 549.62,221.69 551.01,221.73 552.4,221.77 553.79,221.8 555.18,221.83 556.57,221.86 557.96,221.89 559.34,221.91 560.73,221.94 562.12,221.95 563.51,221.97 564.9,221.98 566.29,221.99 567.68,222 569.07,222.01 570.46,222.01 571.85,222.02 573.24,222.02 574.63,222.03 576.02,222.04 577.41,222.04 578.8,222.05 580.18,222.05 581.57,222.06 582.96,222.06 584.35,222.07 585.74,222.08 587.13,222.08 588.52,222.09 589.91,222.09 591.3,222.1 592.69,222.1 594.08,222.1 595.47,222.11 596.86,222.11 598.25,222.12 599.63,222.12 601.02,222.13 602.41,222.13 603.8,222.13 605.19,222.14 606.58,222.14 607.97,222.15 609.36,222.15 610.75,222.15 612.14,222.16 613.53,222.16 614.92,222.16 616.31,222.17 617.7,222.17 619.08,222.17 620.47,222.18 621.86,222.18 623.25,222.18 624.64,222.18 626.03,222.19 627.42,222.19 628.81,222.19 630.2,222.19 631.59,222.2 632.98,222.2 634.37,222.2 635.76,222.2 637.15,222.21 638.53,222.21 639.92,222.21 641.31,222.21 642.7,222.21 644.09,222.21 645.48,222.22 646.87,222.22 648.26,222.22 649.65,222.22 651.04,222.22 652.43,222.22 653.82,222.22 655.21,222.23 656.6,222.23 657.99,222.23 659.37,222.23 660.76,222.23 662.15,222.23 663.54,222.23 664.93,222.23 666.32,222.23 667.71,222.23 669.1,222.23 670.49,222.23 671.88,222.23 673.27,222.23 674.66,222.23 676.05,222.23 677.44,222.23 678.13,222.23"/>
<path class="c" stroke="#008000" stroke-dashoffset="8.6" d="M400.27,67.29 400.55,65.91 400.83,64.58 401.1,63.32 401.38,62.12 401.66,60.99 401.94,59.91 402.22,58.89 402.49,57.92 402.77,57.02 403.05,56.12 403.33,55.24 403.6,54.42 404.02,53.36 404.44,52.56 404.99,51.78 405.55,51.13 406.24,50.54 407.08,50.2 407.91,50.14 408.61,50.56 409.16,51.16 409.72,51.85 410.27,52.69 410.69,53.48 411.11,54.36 411.52,55.3 411.94,56.26 412.36,57.24 412.77,58.27 413.19,59.37 413.47,60.13 413.75,60.91 414.02,61.7 414.3,62.51 414.58,63.34 414.86,64.2 415.14,65.08 415.41,65.97 415.69,66.88 415.97,67.8 416.25,68.72 416.52,69.65 416.8,70.57 417.08,71.49 417.36,72.41 417.64,73.31 417.91,74.2 418.19,75.09 418.47,75.97 418.75,76.84 419.03,77.71 419.3,78.58 419.58,79.45 419.86,80.32 420.14,81.18 420.41,82.05 420.69,82.92 420.97,83.79 421.25,84.66 421.53,85.53 421.8,86.41 422.08,87.29 422.36,88.17 422.64,89.06 422.92,89.95 423.19,90.85 423.47,91.76 423.75,92.68 424.03,93.6 424.3,94.53 424.58,95.47 424.86,96.42 425.14,97.38 425.42,98.36 425.69,99.35 425.97,100.36 426.25,101.38 426.53,102.41 426.81,103.45 427.08,104.51 427.36,105.56 427.64,106.63 427.92,107.69 428.19,108.76 428.47,109.83 428.75,110.9 429.03,111.97 429.31,113.03 429.58,114.09 429.86,115.14 430.14,116.18 430.42,117.22 430.7,118.24 430.97,119.25 431.25,120.24 431.53,121.22 431.81,122.21 432.08,123.19 432.36,124.16 432.64,125.14 432.92,126.11 433.2,127.08 433.47,128.05 433.75,129.01 434.03,129.97 434.31,130.92 434.59,131.86 434.86,132.8 435.14,133.74 435.42,134.66 435.7,135.58 435.98,136.49 436.25,137.39 436.53,138.28 436.81,139.16 437.09,140.03 437.36,140.89 437.64,141.73 437.92,142.57 438.2,143.41 438.48,144.23 438.75,145.05 439.03,145.86 439.31,146.67 439.59,147.46 439.87,148.25 440.14,149.04 440.42,149.81 440.7,150.58 440.98,151.35 441.25,152.11 441.53,152.86 441.95,153.98 442.64,155.82 443.34,157.63 444.03,159.41 444.73,161.17 445.42,162.92 446.12,164.64 446.81,166.34 447.51,168 448.2,169.61 448.9,171.18 449.59,172.69 450.28,174.14 450.98,175.52 451.67,176.84 452.37,178.14 453.06,179.41 453.76,180.67 454.45,181.9 455.15,183.1 455.84,184.28 456.54,185.43 457.23,186.56 457.93,187.65 458.62,188.71 459.32,189.74 460.01,190.73 460.7,191.69 461.4,192.62 462.09,193.52 462.79,194.39 463.48,195.23 464.18,196.03 464.87,196.8 465.57,197.55 466.26,198.27 466.96,198.97 467.65,199.65 468.35,200.3 469.04,200.94 469.74,201.55 470.43,202.15 471.12,202.73 471.82,203.28 472.51,203.82 473.21,204.35 473.9,204.85 474.6,205.34 475.29,205.81 475.99,206.28 476.68,206.73 477.38,207.17 478.07,207.6 478.77,208.02 479.46,208.43 480.15,208.83 481.54,209.6 482.93,210.33 484.32,211.02 485.71,211.68 487.1,212.3 488.49,212.9 489.88,213.49 491.27,214.05 492.66,214.6 494.05,215.11 495.44,215.6 496.83,216.04 498.22,216.45 499.6,216.81 500.99,217.13 502.38,217.44 503.77,217.73 505.16,218.01 506.55,218.28 507.94,218.53 509.33,218.77 510.72,219 512.11,219.21 513.5,219.4 514.89,219.58 516.28,219.75 517.67,219.9 519.06,220.04 520.44,220.17 521.83,220.3 523.22,220.42 524.61,220.53 526,220.65 527.39,220.75 528.78,220.85 530.17,220.94 531.56,221.03 532.95,221.11 534.34,221.19 535.73,221.25 537.12,221.32 538.51,221.37 539.89,221.42 541.28,221.46 542.67,221.51 544.06,221.55 545.45,221.6 546.84,221.64 548.23,221.68 549.62,221.72 551.01,221.75 552.4,221.79 553.79,221.82 555.18,221.85 556.57,221.88 557.96,221.9 559.34,221.93 560.73,221.95 562.12,221.97 563.51,221.98 564.9,221.99 566.29,222 567.68,222.01 569.07,222.02 570.46,222.02 571.85,222.03 573.24,222.03 574.63,222.04 576.02,222.05 577.41,222.05 578.8,222.06 580.18,222.06 581.57,222.07 582.96,222.07 584.35,222.08 585.74,222.08 587.13,222.09 588.52,222.09 589.91,222.1 591.3,222.1 592.69,222.11 594.08,222.11 595.47,222.11 596.86,222.12 598.25,222.12 599.63,222.13 601.02,222.13 602.41,222.14 603.8,222.14 605.19,222.14 606.58,222.15 607.97,222.15 609.36,222.15 610.75,222.16 612.14,222.16 613.53,222.16 614.92,222.17 616.31,222.17 617.7,222.17 619.08,222.18 620.47,222.18 621.86,222.18 623.25,222.18 624.64,222.19 626.03,222.19 627.42,222.19 628.81,222.19 630.2,222.2 631.59,222.2 632.98,222.2 634.37,222.2 635.76,222.2 637.15,222.21 638.53,222.21 639.92,222.21 641.31,222.21 642.7,222.21 644.09,222.22 645.48,222.22 646.87,222.22 648.26,222.22 649.65,222.22 651.04,222.22 652.43,222.22 653.82,222.22 655.21,222.23 656.6,222.23 657.99,222.23 659.37,222.23 660.76,222.23 662.15,222.23 663.54,222.23 664.93,222.23 666.32,222.23 667.71,222.23 669.1,222.23 670.49,222.23 671.88,222.23 673.27,222.23 674.66,222.23 676.05,222.23 677.44,222.23 678.13,222.23"/>
<path class="c" stroke="#ff0000" stroke-dashoffset="8.6" d="M400.27,76.4 400.55,75.23 400.83,74.11 401.1,73.05 401.38,72.05 401.66,71.11 401.94,70.23 402.22,69.4 402.49,68.62 402.91,67.53 403.33,66.48 403.74,65.56 404.16,64.82 404.72,64.15 405.41,63.52 406.11,63.07 406.94,62.91 407.77,63.03 408.47,63.46 409.16,64.18 409.72,64.86 410.27,65.67 410.69,66.39 411.11,67.2 411.52,68.05 411.94,68.93 412.36,69.81 412.77,70.76 413.19,71.75 413.61,72.8 414.02,73.88 414.44,74.99 414.72,75.76 415,76.55 415.27,77.35 415.55,78.17 415.83,79 416.11,79.84 416.39,80.68 416.66,81.52 416.94,82.36 417.22,83.2 417.5,84.03 417.78,84.85 418.05,85.66 418.33,86.47 418.61,87.27 418.89,88.07 419.16,88.87 419.44,89.67 419.72,90.46 420,91.26 420.28,92.06 420.55,92.86 420.83,93.66 421.11,94.46 421.39,95.26 421.67,96.07 421.94,96.88 422.22,97.69 422.5,98.51 422.78,99.33 423.05,100.15 423.33,100.98 423.61,101.82 423.89,102.66 424.17,103.51 424.44,104.36 424.72,105.22 425,106.09 425.28,106.97 425.56,107.86 425.83,108.76 426.11,109.68 426.39,110.6 426.67,111.53 426.94,112.47 427.22,113.42 427.5,114.37 427.78,115.32 428.06,116.28 428.33,117.23 428.61,118.19 428.89,119.15 429.17,120.1 429.45,121.05 429.72,122 430,122.94 430.28,123.87 430.56,124.79 430.83,125.71 431.11,126.61 431.39,127.5 431.67,128.39 431.95,129.28 432.22,130.17 432.5,131.05 432.78,131.93 433.06,132.81 433.34,133.69 433.61,134.56 433.89,135.43 434.17,136.3 434.45,137.16 434.72,138.02 435,138.87 435.28,139.71 435.56,140.56 435.84,141.39 436.11,142.22 436.39,143.04 436.67,143.85 436.95,144.65 437.23,145.45 437.5,146.23 437.78,147.01 438.06,147.78 438.34,148.55 438.61,149.31 438.89,150.06 439.31,151.18 439.73,152.28 440.14,153.37 440.56,154.45 440.98,155.52 441.39,156.58 441.81,157.64 442.64,159.71 443.34,161.4 444.03,163.08 444.73,164.73 445.42,166.37 446.12,167.99 446.81,169.58 447.51,171.14 448.2,172.65 448.9,174.12 449.59,175.53 450.28,176.89 450.98,178.19 451.67,179.45 452.37,180.68 453.06,181.9 453.76,183.09 454.45,184.26 455.15,185.4 455.84,186.52 456.54,187.61 457.23,188.66 457.93,189.68 458.62,190.67 459.32,191.62 460.01,192.54 460.7,193.42 461.4,194.28 462.09,195.1 462.79,195.91 463.48,196.68 464.18,197.43 464.87,198.14 465.57,198.83 466.26,199.5 466.96,200.16 467.65,200.79 468.35,201.4 469.04,201.99 469.74,202.57 470.43,203.12 471.12,203.66 471.82,204.18 472.51,204.69 473.21,205.18 473.9,205.66 474.6,206.12 475.29,206.56 475.99,207 476.68,207.43 477.38,207.84 478.07,208.25 479.46,209.02 480.85,209.77 482.24,210.47 483.63,211.14 485.02,211.78 486.41,212.38 487.8,212.96 489.19,213.52 490.57,214.07 491.96,214.6 493.35,215.1 494.74,215.58 496.13,216.03 497.52,216.44 498.91,216.81 500.3,217.13 501.69,217.43 503.08,217.72 504.47,218 505.86,218.27 507.25,218.52 508.64,218.76 510.02,218.99 511.41,219.2 512.8,219.4 514.19,219.58 515.58,219.75 516.97,219.91 518.36,220.05 519.75,220.18 521.14,220.3 522.53,220.42 523.92,220.54 525.31,220.65 526.7,220.75 528.09,220.85 529.47,220.95 530.86,221.04 532.25,221.12 533.64,221.19 535.03,221.26 536.42,221.33 537.81,221.38 539.2,221.43 540.59,221.48 541.98,221.52 543.37,221.56 544.76,221.61 546.15,221.65 547.54,221.68 548.93,221.72 550.31,221.76 551.7,221.79 553.09,221.82 554.48,221.85 555.87,221.88 557.26,221.91 558.65,221.93 560.04,221.95 561.43,221.97 562.82,221.99 564.21,222 565.6,222.01 566.99,222.02 568.38,222.02 569.76,222.03 571.15,222.04 572.54,222.04 573.93,222.05 575.32,222.05 576.71,222.06 578.1,222.06 579.49,222.07 580.88,222.07 582.27,222.08 583.66,222.08 585.05,222.09 586.44,222.09 587.83,222.1 589.21,222.1 590.6,222.11 591.99,222.11 593.38,222.11 594.77,222.12 596.16,222.12 597.55,222.13 598.94,222.13 600.33,222.13 601.72,222.14 603.11,222.14 604.5,222.15 605.89,222.15 607.28,222.15 608.66,222.16 610.05,222.16 611.44,222.16 612.83,222.17 614.22,222.17 615.61,222.17 617,222.17 618.39,222.18 619.78,222.18 621.17,222.18 622.56,222.19 623.95,222.19 625.34,222.19 626.73,222.19 628.12,222.19 629.5,222.2 630.89,222.2 632.28,222.2 633.67,222.2 635.06,222.21 636.45,222.21 637.84,222.21 639.23,222.21 640.62,222.21 642.01,222.21 643.4,222.22 644.79,222.22 646.18,222.22 647.57,222.22 648.95,222.22 650.34,222.22 651.73,222.22 653.12,222.22 654.51,222.23 655.9,222.23 657.29,222.23 658.68,222.23 660.07,222.23 661.46,222.23 662.85,222.23 664.24,222.23 665.63,222.23 667.02,222.23 668.4,222.23 669.79,222.23 671.18,222.23 672.57,222.23 673.96,222.23 675.35,222.23 676.74,222.23 678.13,222.23"/>
<path class="c" stroke="#00bfbf" stroke-dashoffset="8.6" d="M400.27,85.52 400.55,84.56 400.83,83.65 401.1,82.78 401.38,81.98 401.8,80.89 402.22,79.92 402.63,79.04 403.05,78.22 403.47,77.48 404.02,76.73 404.72,76.15 405.41,75.75 406.24,75.48 407.08,75.62 407.91,76.03 408.61,76.61 409.16,77.21 409.72,77.88 410.27,78.64 410.83,79.55 411.25,80.29 411.66,81.06 412.08,81.85 412.5,82.67 412.91,83.53 413.33,84.44 413.75,85.4 414.16,86.38 414.58,87.4 415,88.46 415.41,89.55 415.83,90.67 416.11,91.42 416.39,92.17 416.66,92.93 416.94,93.69 417.22,94.45 417.5,95.2 417.91,96.31 418.33,97.41 418.75,98.5 419.16,99.59 419.58,100.68 420,101.77 420.41,102.86 420.83,103.96 421.25,105.06 421.67,106.17 422.08,107.28 422.5,108.4 422.92,109.52 423.19,110.28 423.47,111.04 423.75,111.8 424.03,112.56 424.3,113.33 424.58,114.11 424.86,114.89 425.14,115.67 425.42,116.46 425.69,117.26 425.97,118.08 426.25,118.89 426.53,119.72 426.81,120.55 427.08,121.38 427.36,122.22 427.64,123.06 427.92,123.9 428.19,124.75 428.47,125.59 428.75,126.44 429.03,127.28 429.31,128.12 429.58,128.96 429.86,129.8 430.14,130.63 430.42,131.45 430.7,132.27 430.97,133.08 431.25,133.88 431.53,134.68 431.81,135.47 432.08,136.27 432.36,137.06 432.64,137.84 432.92,138.63 433.2,139.42 433.47,140.2 433.75,140.98 434.03,141.76 434.31,142.54 434.59,143.31 434.86,144.08 435.14,144.85 435.42,145.61 435.7,146.37 435.98,147.12 436.39,148.24 436.81,149.34 437.23,150.43 437.64,151.51 438.06,152.57 438.48,153.63 438.89,154.66 439.31,155.69 439.73,156.71 440.14,157.71 440.56,158.71 440.98,159.7 441.39,160.68 441.81,161.66 442.64,163.59 443.34,165.18 444.03,166.74 444.73,168.3 445.42,169.83 446.12,171.34 446.81,172.82 447.51,174.28 448.2,175.69 448.9,177.05 449.59,178.37 450.28,179.64 450.98,180.86 451.67,182.05 452.37,183.23 453.06,184.38 453.76,185.51 454.45,186.62 455.15,187.7 455.84,188.75 456.54,189.78 457.23,190.77 457.93,191.72 458.62,192.64 459.32,193.51 460.01,194.35 460.7,195.15 461.4,195.93 462.09,196.69 462.79,197.42 463.48,198.13 464.18,198.82 464.87,199.48 465.57,200.12 466.26,200.74 466.96,201.34 467.65,201.93 468.35,202.49 469.04,203.04 469.74,203.58 470.43,204.09 471.12,204.6 471.82,205.08 472.51,205.56 473.21,206.02 473.9,206.46 474.6,206.89 475.29,207.31 475.99,207.72 476.68,208.12 478.07,208.89 479.46,209.62 480.85,210.31 482.24,210.97 483.63,211.6 485.02,212.2 486.41,212.77 487.8,213.32 489.19,213.85 490.57,214.37 491.96,214.87 493.35,215.35 494.74,215.81 496.13,216.23 497.52,216.63 498.91,216.98 500.3,217.29 501.69,217.58 503.08,217.86 504.47,218.13 505.86,218.39 507.25,218.64 508.64,218.87 510.02,219.09 511.41,219.29 512.8,219.49 514.19,219.67 515.58,219.83 516.97,219.98 518.36,220.12 519.75,220.25 521.14,220.37 522.53,220.48 523.92,220.6 525.31,220.71 526.7,220.81 528.09,220.91 529.47,221 530.86,221.08 532.25,221.16 533.64,221.24 535.03,221.3 536.42,221.37 537.81,221.42 539.2,221.47 540.59,221.51 541.98,221.55 543.37,221.59 544.76,221.63 546.15,221.67 547.54,221.71 548.93,221.75 550.31,221.78 551.7,221.81 553.09,221.84 554.48,221.87 555.87,221.9 557.26,221.92 558.65,221.95 560.04,221.97 561.43,221.98 562.82,222 564.21,222.01 565.6,222.02 566.99,222.03 568.38,222.03 569.76,222.04 571.15,222.05 572.54,222.05 573.93,222.06 575.32,222.06 576.71,222.07 578.1,222.07 579.49,222.08 580.88,222.08 582.27,222.09 583.66,222.09 585.05,222.09 586.44,222.1 587.83,222.1 589.21,222.11 590.6,222.11 591.99,222.12 593.38,222.12 594.77,222.12 596.16,222.13 597.55,222.13 598.94,222.14 600.33,222.14 601.72,222.14 603.11,222.15 604.5,222.15 605.89,222.15 607.28,222.16 608.66,222.16 610.05,222.16 611.44,222.17 612.83,222.17 614.22,222.17 615.61,222.17 617,222.18 618.39,222.18 619.78,222.18 621.17,222.19 622.56,222.19 623.95,222.19 625.34,222.19 626.73,222.19 628.12,222.2 629.5,222.2 630.89,222.2 632.28,222.2 633.67,222.2 635.06,222.21 636.45,222.21 637.84,222.21 639.23,222.21 640.62,222.21 642.01,222.21 643.4,222.22 644.79,222.22 646.18,222.22 647.57,222.22 648.95,222.22 650.34,222.22 651.73,222.22 653.12,222.22 654.51,222.23 655.9,222.23 657.29,222.23 658.68,222.23 660.07,222.23 661.46,222.23 662.85,222.23 664.24,222.23 665.63,222.23 667.02,222.23 668.4,222.23 669.79,222.23 671.18,222.23 672.57,222.23 673.96,222.23 675.35,222.23 676.74,222.23 678.13,222.23"/>
<path class="c" stroke="#bf00bf" stroke-dashoffset="8.6" d="M400.27,94.64 400.69,93.53 401.1,92.52 401.52,91.62 401.94,90.88 402.49,90.02 403.05,89.27 403.6,88.69 404.3,88.29 405.13,88.05 405.97,87.92 406.8,88.17 407.49,88.62 408.19,89.22 408.88,89.92 409.44,90.55 410,91.24 410.55,92.02 411.11,92.87 411.66,93.78 412.08,94.49 412.5,95.22 412.91,95.98 413.33,96.79 413.75,97.64 414.16,98.52 414.58,99.43 415,100.37 415.41,101.34 415.83,102.33 416.25,103.33 416.66,104.34 417.08,105.36 417.5,106.36 417.91,107.36 418.33,108.35 418.75,109.33 419.16,110.31 419.58,111.29 420,112.28 420.41,113.27 420.83,114.26 421.25,115.26 421.67,116.27 422.08,117.28 422.5,118.29 422.92,119.31 423.33,120.33 423.75,121.36 424.17,122.39 424.58,123.43 425,124.47 425.42,125.52 425.83,126.58 426.25,127.65 426.67,128.73 427.08,129.82 427.5,130.91 427.92,132.01 428.33,133.11 428.75,134.21 429.17,135.3 429.58,136.4 430,137.48 430.42,138.57 430.83,139.64 431.25,140.7 431.67,141.75 432.08,142.8 432.5,143.85 432.92,144.89 433.34,145.93 433.75,146.97 434.17,148.01 434.59,149.04 435,150.06 435.42,151.08 435.84,152.1 436.25,153.11 436.67,154.1 437.09,155.09 437.5,156.07 437.92,157.04 438.34,158 438.75,158.95 439.17,159.89 439.59,160.83 440,161.74 440.42,162.66 440.84,163.57 441.25,164.48 441.67,165.38 442.64,167.47 443.34,168.95 444.03,170.41 444.73,171.86 445.42,173.29 446.12,174.69 446.81,176.07 447.51,177.41 448.2,178.72 448.9,179.99 449.59,181.21 450.28,182.39 450.98,183.54 451.67,184.66 452.37,185.77 453.06,186.86 453.76,187.93 454.45,188.98 455.15,190 455.84,190.99 456.54,191.95 457.23,192.87 457.93,193.76 458.62,194.6 459.32,195.4 460.01,196.16 460.7,196.89 461.4,197.59 462.09,198.28 462.79,198.94 463.48,199.59 464.18,200.21 464.87,200.82 465.57,201.4 466.26,201.97 466.96,202.53 467.65,203.07 468.35,203.59 469.04,204.1 469.74,204.59 470.43,205.07 471.12,205.53 471.82,205.99 472.51,206.42 473.21,206.85 473.9,207.27 474.6,207.67 475.99,208.45 477.38,209.18 478.77,209.88 480.15,210.54 481.54,211.17 482.93,211.77 484.32,212.34 485.71,212.89 487.1,213.42 488.49,213.92 489.88,214.42 491.27,214.91 492.66,215.37 494.05,215.82 495.44,216.24 496.83,216.63 498.22,216.99 499.6,217.31 500.99,217.59 502.38,217.87 503.77,218.14 505.16,218.39 506.55,218.63 507.94,218.87 509.33,219.08 510.72,219.29 512.11,219.49 513.5,219.67 514.89,219.83 516.28,219.99 517.67,220.13 519.06,220.25 520.44,220.37 521.83,220.49 523.22,220.6 524.61,220.71 526,220.81 527.39,220.91 528.78,221 530.17,221.09 531.56,221.17 532.95,221.25 534.34,221.31 535.73,221.38 537.12,221.43 538.51,221.48 539.89,221.53 541.28,221.57 542.67,221.61 544.06,221.65 545.45,221.68 546.84,221.72 548.23,221.75 549.62,221.79 551.01,221.82 552.4,221.85 553.79,221.88 555.18,221.9 556.57,221.93 557.96,221.95 559.34,221.97 560.73,221.99 562.12,222.01 563.51,222.02 564.9,222.03 566.29,222.04 567.68,222.04 569.07,222.05 570.46,222.05 571.85,222.06 573.24,222.06 574.63,222.07 576.02,222.07 577.41,222.08 578.8,222.08 580.18,222.09 581.57,222.09 582.96,222.1 584.35,222.1 585.74,222.1 587.13,222.11 588.52,222.11 589.91,222.12 591.3,222.12 592.69,222.12 594.08,222.13 595.47,222.13 596.86,222.14 598.25,222.14 599.63,222.14 601.02,222.15 602.41,222.15 603.8,222.15 605.19,222.16 606.58,222.16 607.97,222.16 609.36,222.17 610.75,222.17 612.14,222.17 613.53,222.17 614.92,222.18 616.31,222.18 617.7,222.18 619.08,222.18 620.47,222.19 621.86,222.19 623.25,222.19 624.64,222.19 626.03,222.2 627.42,222.2 628.81,222.2 630.2,222.2 631.59,222.2 632.98,222.21 634.37,222.21 635.76,222.21 637.15,222.21 638.53,222.21 639.92,222.21 641.31,222.22 642.7,222.22 644.09,222.22 645.48,222.22 646.87,222.22 648.26,222.22 649.65,222.22 651.04,222.22 652.43,222.22 653.82,222.23 655.21,222.23 656.6,222.23 657.99,222.23 659.37,222.23 660.76,222.23 662.15,222.23 663.54,222.23 664.93,222.23 666.32,222.23 667.71,222.23 669.1,222.23 670.49,222.23 671.88,222.23 673.27,222.23 674.66,222.23 676.05,222.23 677.44,222.23 678.13,222.23"/>
<path class="c" stroke="#bfbf00" stroke-dashoffset="8.6" d="M400.27,103.75 400.69,102.96 401.1,102.25 401.66,101.48 402.35,100.84 403.05,100.32 403.88,100.11 404.72,100.15 405.55,100.25 406.38,100.5 407.08,101.04 407.77,101.76 408.33,102.37 408.88,102.95 409.44,103.57 410,104.24 410.55,104.95 411.11,105.71 411.66,106.51 412.22,107.34 412.77,108.21 413.19,108.9 413.61,109.63 414.02,110.4 414.44,111.19 414.86,112.01 415.27,112.85 415.69,113.71 416.11,114.58 416.52,115.46 416.94,116.35 417.36,117.23 417.78,118.12 418.19,119 418.61,119.88 419.03,120.74 419.44,121.61 419.86,122.49 420.28,123.37 420.69,124.27 421.11,125.16 421.53,126.06 421.94,126.97 422.36,127.88 422.78,128.79 423.19,129.7 423.61,130.61 424.03,131.53 424.44,132.44 424.86,133.35 425.28,134.26 425.69,135.18 426.11,136.1 426.53,137.02 426.94,137.95 427.36,138.87 427.78,139.8 428.19,140.73 428.61,141.66 429.03,142.59 429.45,143.52 429.86,144.45 430.28,145.37 430.7,146.3 431.11,147.22 431.53,148.13 431.95,149.04 432.36,149.95 432.78,150.85 433.2,151.75 433.61,152.65 434.03,153.56 434.45,154.46 434.86,155.36 435.28,156.26 435.7,157.16 436.11,158.05 436.53,158.94 436.95,159.82 437.36,160.7 437.78,161.58 438.2,162.44 438.61,163.3 439.03,164.16 439.45,165 439.87,165.84 440.28,166.66 440.7,167.49 441.12,168.32 441.53,169.15 441.95,169.98 442.64,171.36 443.34,172.73 444.03,174.08 444.73,175.42 445.42,176.74 446.12,178.04 446.81,179.31 447.51,180.55 448.2,181.76 448.9,182.93 449.59,184.05 450.28,185.14 450.98,186.21 451.67,187.27 452.37,188.32 453.06,189.35 453.76,190.35 454.45,191.34 455.15,192.3 455.84,193.22 456.54,194.12 457.23,194.98 457.93,195.79 458.62,196.57 459.32,197.29 460.01,197.97 460.7,198.62 461.4,199.25 462.09,199.86 462.79,200.46 463.48,201.04 464.18,201.61 464.87,202.15 465.57,202.69 466.26,203.21 466.96,203.71 467.65,204.21 468.35,204.68 469.04,205.15 469.74,205.6 470.43,206.04 471.12,206.47 471.82,206.89 472.51,207.29 473.9,208.07 475.29,208.81 476.68,209.51 478.07,210.18 479.46,210.81 480.85,211.41 482.24,211.98 483.63,212.52 485.02,213.04 486.41,213.54 487.8,214.03 489.19,214.5 490.57,214.96 491.96,215.42 493.35,215.85 494.74,216.26 496.13,216.64 497.52,217 498.91,217.32 500.3,217.61 501.69,217.88 503.08,218.14 504.47,218.4 505.86,218.64 507.25,218.87 508.64,219.08 510.02,219.29 511.41,219.49 512.8,219.67 514.19,219.84 515.58,219.99 516.97,220.14 518.36,220.26 519.75,220.38 521.14,220.5 522.53,220.61 523.92,220.72 525.31,220.82 526.7,220.92 528.09,221.01 529.47,221.1 530.86,221.18 532.25,221.26 533.64,221.33 535.03,221.39 536.42,221.45 537.81,221.5 539.2,221.54 540.59,221.58 541.98,221.62 543.37,221.66 544.76,221.69 546.15,221.73 547.54,221.76 548.93,221.8 550.31,221.83 551.7,221.86 553.09,221.88 554.48,221.91 555.87,221.93 557.26,221.96 558.65,221.98 560.04,222 561.43,222.01 562.82,222.02 564.21,222.04 565.6,222.04 566.99,222.05 568.38,222.06 569.76,222.06 571.15,222.07 572.54,222.07 573.93,222.08 575.32,222.08 576.71,222.08 578.1,222.09 579.49,222.09 580.88,222.1 582.27,222.1 583.66,222.11 585.05,222.11 586.44,222.11 587.83,222.12 589.21,222.12 590.6,222.13 591.99,222.13 593.38,222.13 594.77,222.14 596.16,222.14 597.55,222.14 598.94,222.15 600.33,222.15 601.72,222.15 603.11,222.16 604.5,222.16 605.89,222.16 607.28,222.16 608.66,222.17 610.05,222.17 611.44,222.17 612.83,222.18 614.22,222.18 615.61,222.18 617,222.18 618.39,222.19 619.78,222.19 621.17,222.19 622.56,222.19 623.95,222.19 625.34,222.2 626.73,222.2 628.12,222.2 629.5,222.2 630.89,222.2 632.28,222.21 633.67,222.21 635.06,222.21 636.45,222.21 637.84,222.21 639.23,222.21 640.62,222.22 642.01,222.22 643.4,222.22 644.79,222.22 646.18,222.22 647.57,222.22 648.95,222.22 650.34,222.22 651.73,222.22 653.12,222.23 654.51,222.23 655.9,222.23 657.29,222.23 658.68,222.23 660.07,222.23 661.46,222.23 662.85,222.23 664.24,222.23 665.63,222.23 667.02,222.23 668.4,222.23 669.79,222.23 671.18,222.23 672.57,222.23 673.96,222.23 675.35,222.23 676.74,222.23 678.13,222.23"/>
</g>
<text class="t tk" x="400.87" y="234.87" text-anchor="middle">0</text>
<text class="t tk" x="470.34" y="234.87" text-anchor="middle">5</text>
<text class="t tk" x="539.8" y="234.87" text-anchor="middle">10</text>
<text class="t tk" x="609.26" y="234.87" text-anchor="middle">15</text>
<text class="t tk" x="678.73" y="234.87" text-anchor="middle">20</text>
<text class="t tk" x="398.37" y="226.47" text-anchor="end">0</text>
<text class="t tk" x="398.37" y="190" text-anchor="end">20</text>
<text class="t tk" x="398.37" y="153.54" text-anchor="end">40</text>
<text class="t tk" x="398.37" y="117.07" text-anchor="end">60</text>
<text class="t tk" x="398.37" y="80.6" text-anchor="end">80</text>
<text class="t tk" x="398.37" y="44.14" text-anchor="end">100</text>
<text class="t tk" x="398.37" y="7.67" text-anchor="end">120</text>
<text class="t lb" x="539.2" y="248.07" text-anchor="middle">Time (Months)</text>
<text class="t lb" transform="translate(374.4,112.87) rotate(-90)" text-anchor="middle">Acute Population (A(t)</text>
<rect x="594.8" y="7.4" width="78.7" height="78.8" fill="#fff" stroke="#484848" stroke-width="0.8"/>
<path class="c" style="stroke-width:2" stroke="#0000ff" stroke-dashoffset="9.1" d="M599.8,15.6H625.8"/>
<text class="t lg" x="628.4" y="19.6">A(0) = 90</text>
<path class="c" style="stroke-width:2" stroke="#008000" stroke-dashoffset="9.1" d="M599.8,28.26H625.8"/>
<text class="t lg" x="628.4" y="32.26">A(0) = 85</text>
<path class="c" style="stroke-width:2" stroke="#ff0000" stroke-dashoffset="9.1" d="M599.8,40.92H625.8"/>
<text class="t lg" x="628.4" y="44.92">A(0) = 80</text>
<path class="c" style="stroke-width:2" stroke="#00bfbf" stroke-dashoffset="9.1" d="M599.8,53.58H625.8"/>
<text class="t lg" x="628.4" y="57.58">A(0) = 75</text>
<path class="c" style="stroke-width:2" stroke="#bf00bf" stroke-dashoffset="9.1" d="M599.8,66.24H625.8"/>
<text class="t lg" x="628.4" y="70.24">A(0) = 70</text>
<path class="c" style="stroke-width:2" stroke="#bfbf00" stroke-dashoffset="9.1" d="M599.8,78.9H625.8"/>
<text class="t lg" x="628.4" y="82.9">A(0) = 65</text>
</g>
<g>
<clipPath id="cp2"><rect x="34.47" y="322.47" width="278.53" height="221.1"/></clipPath>
<rect class="ax" x="34.67" y="323.47" width="277.83" height="218.8"/>
<path class="ax" d="M104.13,542.27v-2.7 M104.13,323.47v2.7 M173.58,542.27v-2.7 M173.58,323.47v2.7 M243.04,542.27v-2.7 M243.04,323.47v2.7 M34.67,517.96h2.7 M312.5,517.96h-2.7 M34.67,493.65h2.7 M312.5,493.65h-2.7 M34.67,469.34h2.7 M312.5,469.34h-2.7 M34.67,445.03h2.7 M312.5,445.03h-2.7 M34.67,420.71h2.7 M312.5,420.71h-2.7 M34.67,396.4h2.7 M312.5,396.4h-2.7 M34.67,372.09h2.7 M312.5,372.09h-2.7 M34.67,347.78h2.7 M312.5,347.78h-2.7"/>
<g clip-path="url(#cp2)">
<path class="c" stroke="#0000ff" stroke-dashoffset="8.6" d="M34.67,335.63 34.95,336.75 35.23,337.88 35.5,339.03 35.78,340.17 36.06,341.33 36.34,342.59 36.61,343.97 36.89,345.42 37.17,346.91 37.45,348.4 37.73,349.86 38,351.26 38.28,352.56 38.56,353.83 38.84,355.09 39.12,356.33 39.39,357.54 39.67,358.74 39.95,359.91 40.23,361.05 40.5,362.16 40.78,363.24 41.06,364.28 41.34,365.28 41.62,366.25 41.89,367.19 42.17,368.11 42.45,369 42.73,369.87 43,370.72 43.28,371.55 43.56,372.37 43.84,373.16 44.12,373.95 44.39,374.72 44.67,375.47 45.09,376.59 45.51,377.68 45.92,378.75 46.34,379.77 46.76,380.76 47.17,381.72 47.59,382.66 48.01,383.58 48.42,384.49 48.84,385.4 49.26,386.32 49.67,387.24 50.09,388.18 50.51,389.14 50.92,390.13 51.34,391.16 51.76,392.22 52.17,393.32 52.59,394.43 52.87,395.19 53.15,395.94 53.42,396.7 53.7,397.46 53.98,398.21 54.4,399.33 54.81,400.44 55.23,401.51 55.65,402.55 56.06,403.58 56.48,404.58 56.9,405.58 57.31,406.57 57.73,407.55 58.15,408.54 58.56,409.53 58.98,410.53 59.4,411.55 59.81,412.58 60.23,413.64 60.65,414.72 61.06,415.82 61.48,416.92 61.9,418.04 62.31,419.16 62.73,420.28 63.15,421.4 63.56,422.52 63.98,423.63 64.4,424.73 64.81,425.82 65.23,426.9 65.65,427.99 66.06,429.07 66.48,430.15 66.9,431.23 67.32,432.31 67.73,433.38 68.15,434.46 68.57,435.54 68.98,436.63 69.4,437.71 69.82,438.8 70.23,439.89 70.65,440.97 71.07,442.06 71.48,443.14 71.9,444.22 72.32,445.29 72.73,446.35 73.15,447.42 73.57,448.5 73.98,449.57 74.4,450.65 74.82,451.71 75.23,452.76 75.65,453.8 76.07,454.81 77.04,457.09 77.73,458.63 78.43,460.12 79.12,461.57 79.82,463 80.51,464.41 81.21,465.83 81.9,467.25 82.6,468.7 83.29,470.18 83.98,471.69 84.68,473.22 85.37,474.76 86.07,476.29 86.76,477.81 87.46,479.3 88.15,480.76 88.85,482.19 89.54,483.61 90.24,485.01 90.93,486.4 91.63,487.76 92.32,489.1 93.01,490.41 93.71,491.7 94.4,492.97 95.1,494.23 95.79,495.47 96.49,496.69 97.18,497.89 97.88,499.07 98.57,500.22 99.27,501.34 99.96,502.43 100.65,503.5 101.35,504.56 102.04,505.61 102.74,506.65 103.43,507.66 104.13,508.65 104.82,509.61 105.52,510.53 106.21,511.4 106.91,512.23 107.6,513 108.29,513.74 108.99,514.44 109.68,515.11 110.38,515.76 111.07,516.39 111.77,517 112.46,517.59 113.16,518.16 113.85,518.72 114.55,519.28 115.24,519.82 115.94,520.36 116.63,520.9 117.32,521.42 118.02,521.94 118.71,522.44 119.41,522.94 120.1,523.43 120.8,523.91 121.49,524.38 122.19,524.83 122.88,525.28 123.58,525.71 124.27,526.14 124.96,526.55 125.66,526.95 126.35,527.35 127.74,528.12 129.13,528.87 130.52,529.57 131.91,530.24 133.3,530.85 134.69,531.42 136.08,531.96 137.47,532.46 138.86,532.94 140.25,533.39 141.63,533.83 143.02,534.25 144.41,534.66 145.8,535.06 147.19,535.44 148.58,535.81 149.97,536.16 151.36,536.49 152.75,536.8 154.14,537.09 155.53,537.36 156.92,537.62 158.3,537.86 159.69,538.1 161.08,538.33 162.47,538.56 163.86,538.8 165.25,539.02 166.64,539.24 168.03,539.45 169.42,539.65 170.81,539.82 172.2,539.96 173.58,540.09 174.97,540.2 176.36,540.31 177.75,540.42 179.14,540.52 180.53,540.61 181.92,540.7 183.31,540.78 184.7,540.85 186.09,540.92 187.48,540.99 188.87,541.05 190.25,541.12 191.64,541.18 193.03,541.24 194.42,541.3 195.81,541.36 197.2,541.42 198.59,541.47 199.98,541.53 201.37,541.58 202.76,541.63 204.15,541.67 205.54,541.72 206.92,541.76 208.31,541.79 209.7,541.82 211.09,541.85 212.48,541.88 213.87,541.89 215.26,541.91 216.65,541.91 218.04,541.92 219.43,541.93 220.82,541.94 222.21,541.95 223.59,541.96 224.98,541.97 226.37,541.98 227.76,541.99 229.15,541.99 230.54,542 231.93,542.01 233.32,542.02 234.71,542.03 236.1,542.03 237.49,542.04 238.88,542.05 240.26,542.05 241.65,542.06 243.04,542.07 244.43,542.07 245.82,542.08 247.21,542.09 248.6,542.09 249.99,542.1 251.38,542.1 252.77,542.11 254.16,542.11 255.54,542.12 256.93,542.12 258.32,542.13 259.71,542.13 261.1,542.14 262.49,542.14 263.88,542.15 265.27,542.15 266.66,542.16 268.05,542.16 269.44,542.16 270.83,542.17 272.21,542.17 273.6,542.18 274.99,542.18 276.38,542.18 277.77,542.19 279.16,542.19 280.55,542.19 281.94,542.19 283.33,542.2 284.72,542.2 286.11,542.2 287.5,542.2 288.88,542.2 290.27,542.21 291.66,542.21 293.05,542.21 294.44,542.21 295.83,542.21 297.22,542.21 298.61,542.22 300,542.22 301.39,542.22 302.78,542.22 304.17,542.22 305.55,542.22 306.94,542.22 308.33,542.22 309.72,542.22 311.11,542.22 312.5,542.22"/>
<path class="c" stroke="#008000" stroke-dashoffset="8.6" d="M34.67,347.78 34.95,348.85 35.23,349.93 35.5,351.01 35.78,352.09 36.06,353.19 36.34,354.38 36.61,355.65 36.89,356.99 37.17,358.36 37.45,359.74 37.73,361.09 38,362.38 38.28,363.6 38.56,364.8 38.84,365.98 39.12,367.15 39.39,368.29 39.67,369.42 39.95,370.51 40.23,371.58 40.5,372.63 40.78,373.64 41.06,374.63 41.34,375.58 41.62,376.5 41.89,377.39 42.17,378.27 42.45,379.12 42.73,379.96 43,380.78 43.28,381.58 43.56,382.37 43.84,383.14 44.12,383.9 44.53,385.01 44.95,386.1 45.37,387.18 45.78,388.22 46.2,389.24 46.62,390.22 47.03,391.17 47.45,392.1 47.87,393.02 48.28,393.92 48.7,394.82 49.12,395.72 49.53,396.63 49.95,397.55 50.37,398.48 50.78,399.43 51.2,400.41 51.62,401.42 52.03,402.45 52.45,403.5 52.87,404.57 53.28,405.64 53.7,406.71 54.12,407.77 54.53,408.83 54.95,409.86 55.37,410.86 55.79,411.85 56.2,412.82 56.62,413.77 57.04,414.72 57.45,415.65 57.87,416.59 58.29,417.52 58.7,418.46 59.12,419.41 59.54,420.38 59.95,421.35 60.37,422.35 60.79,423.36 61.2,424.38 61.62,425.42 62.04,426.46 62.45,427.5 62.87,428.55 63.29,429.59 63.7,430.63 64.12,431.66 64.54,432.68 64.95,433.7 65.37,434.71 65.79,435.73 66.2,436.74 66.62,437.75 67.04,438.76 67.45,439.77 67.87,440.78 68.29,441.79 68.7,442.8 69.12,443.82 69.54,444.83 69.95,445.85 70.37,446.86 70.79,447.88 71.2,448.89 71.62,449.9 72.04,450.9 72.45,451.9 72.87,452.89 73.29,453.89 73.71,454.9 74.12,455.9 74.54,456.89 74.96,457.88 75.37,458.86 75.79,459.83 76.21,460.77 77.04,462.6 77.73,464.06 78.43,465.48 79.12,466.87 79.82,468.23 80.51,469.58 81.21,470.93 81.9,472.29 82.6,473.66 83.29,475.06 83.98,476.48 84.68,477.91 85.37,479.34 86.07,480.76 86.76,482.16 87.46,483.54 88.15,484.88 88.85,486.2 89.54,487.51 90.24,488.8 90.93,490.08 91.63,491.33 92.32,492.57 93.01,493.78 93.71,494.96 94.4,496.13 95.1,497.28 95.79,498.42 96.49,499.54 97.18,500.64 97.88,501.72 98.57,502.78 99.27,503.81 99.96,504.82 100.65,505.8 101.35,506.77 102.04,507.74 102.74,508.69 103.43,509.62 104.13,510.52 104.82,511.4 105.52,512.24 106.21,513.04 106.91,513.81 107.6,514.53 108.29,515.21 108.99,515.87 109.68,516.5 110.38,517.11 111.07,517.71 111.77,518.28 112.46,518.84 113.16,519.38 113.85,519.92 114.55,520.44 115.24,520.96 115.94,521.47 116.63,521.97 117.32,522.47 118.02,522.96 118.71,523.44 119.41,523.91 120.1,524.38 120.8,524.83 121.49,525.27 122.19,525.7 122.88,526.13 123.58,526.54 124.27,526.94 125.66,527.7 127.05,528.44 128.44,529.15 129.83,529.82 131.22,530.46 132.61,531.07 133.99,531.63 135.38,532.15 136.77,532.65 138.16,533.12 139.55,533.57 140.94,534 142.33,534.41 143.72,534.81 145.11,535.19 146.5,535.57 147.89,535.92 149.27,536.27 150.66,536.59 152.05,536.89 153.44,537.18 154.83,537.45 156.22,537.71 157.61,537.96 159,538.19 160.39,538.42 161.78,538.64 163.17,538.86 164.56,539.07 165.94,539.29 167.33,539.49 168.72,539.67 170.11,539.84 171.5,539.99 172.89,540.12 174.28,540.23 175.67,540.34 177.06,540.45 178.45,540.54 179.84,540.63 181.23,540.72 182.61,540.8 184,540.87 185.39,540.94 186.78,541.01 188.17,541.07 189.56,541.13 190.95,541.19 192.34,541.25 193.73,541.31 195.12,541.37 196.51,541.42 197.9,541.48 199.28,541.53 200.67,541.58 202.06,541.63 203.45,541.68 204.84,541.72 206.23,541.76 207.62,541.8 209.01,541.83 210.4,541.86 211.79,541.88 213.18,541.9 214.56,541.91 215.95,541.92 217.34,541.93 218.73,541.94 220.12,541.95 221.51,541.96 222.9,541.97 224.29,541.98 225.68,541.99 227.07,541.99 228.46,542 229.85,542.01 231.23,542.02 232.62,542.02 234.01,542.03 235.4,542.04 236.79,542.04 238.18,542.05 239.57,542.06 240.96,542.06 242.35,542.07 243.74,542.08 245.13,542.08 246.52,542.09 247.9,542.1 249.29,542.1 250.68,542.11 252.07,542.11 253.46,542.12 254.85,542.12 256.24,542.13 257.63,542.13 259.02,542.14 260.41,542.14 261.8,542.15 263.19,542.15 264.57,542.15 265.96,542.16 267.35,542.16 268.74,542.17 270.13,542.17 271.52,542.17 272.91,542.18 274.3,542.18 275.69,542.18 277.08,542.19 278.47,542.19 279.85,542.19 281.24,542.19 282.63,542.2 284.02,542.2 285.41,542.2 286.8,542.2 288.19,542.2 289.58,542.21 290.97,542.21 292.36,542.21 293.75,542.21 295.14,542.21 296.52,542.21 297.91,542.22 299.3,542.22 300.69,542.22 302.08,542.22 303.47,542.22 304.86,542.22 306.25,542.22 307.64,542.22 309.03,542.22 310.42,542.22 311.81,542.22 312.5,542.22"/>
<path class="c" stroke="#ff0000" stroke-dashoffset="8.6" d="M34.67,359.94 34.95,360.95 35.23,361.97 35.5,362.99 35.78,364.02 36.06,365.06 36.34,366.16 36.61,367.33 36.89,368.56 37.17,369.81 37.45,371.07 37.73,372.31 38,373.51 38.28,374.65 38.56,375.77 38.84,376.88 39.12,377.97 39.39,379.05 39.67,380.09 39.95,381.12 40.23,382.12 40.5,383.09 40.78,384.04 41.06,384.97 41.34,385.87 41.62,386.75 41.89,387.6 42.17,388.43 42.45,389.25 42.73,390.05 43,390.84 43.28,391.61 43.56,392.37 43.98,393.48 44.39,394.57 44.81,395.64 45.23,396.69 45.64,397.71 46.06,398.71 46.48,399.68 46.89,400.62 47.31,401.55 47.73,402.46 48.14,403.36 48.56,404.25 48.98,405.14 49.39,406.03 49.81,406.93 50.23,407.83 50.65,408.75 51.06,409.69 51.48,410.65 51.9,411.63 52.31,412.62 52.73,413.62 53.15,414.62 53.56,415.63 53.98,416.63 54.4,417.62 54.81,418.6 55.23,419.55 55.65,420.49 56.06,421.42 56.48,422.33 56.9,423.22 57.31,424.12 57.73,425 58.15,425.89 58.56,426.77 58.98,427.66 59.4,428.56 59.81,429.47 60.23,430.39 60.65,431.32 61.06,432.27 61.48,433.22 61.9,434.18 62.31,435.15 62.73,436.11 63.15,437.08 63.56,438.04 63.98,439 64.4,439.95 64.81,440.9 65.23,441.85 65.65,442.79 66.06,443.74 66.48,444.68 66.9,445.62 67.32,446.56 67.73,447.5 68.15,448.44 68.57,449.39 68.98,450.33 69.4,451.27 69.82,452.22 70.23,453.16 70.65,454.1 71.07,455.04 71.48,455.98 71.9,456.91 72.32,457.84 72.73,458.77 73.15,459.7 73.57,460.63 73.98,461.55 74.4,462.48 74.82,463.4 75.23,464.32 75.65,465.22 76.07,466.11 77.04,468.12 77.73,469.5 78.43,470.85 79.12,472.17 79.82,473.46 80.51,474.75 81.21,476.04 81.9,477.33 82.6,478.63 83.29,479.95 83.98,481.27 84.68,482.6 85.37,483.92 86.07,485.22 86.76,486.51 87.46,487.77 88.15,489 88.85,490.22 89.54,491.41 90.24,492.6 90.93,493.76 91.63,494.91 92.32,496.03 93.01,497.14 93.71,498.22 94.4,499.29 95.1,500.34 95.79,501.37 96.49,502.39 97.18,503.39 97.88,504.38 98.57,505.34 99.27,506.28 99.96,507.2 100.65,508.1 101.35,508.99 102.04,509.87 102.74,510.73 103.43,511.57 104.13,512.39 104.82,513.19 105.52,513.95 106.21,514.68 106.91,515.39 107.6,516.05 108.29,516.68 108.99,517.3 109.68,517.89 110.38,518.46 111.07,519.02 111.77,519.56 112.46,520.09 113.16,520.6 113.85,521.11 114.55,521.6 115.24,522.09 115.94,522.58 116.63,523.05 117.32,523.52 118.02,523.99 118.71,524.44 119.41,524.88 120.1,525.32 120.8,525.75 121.49,526.17 122.19,526.57 122.88,526.97 124.27,527.73 125.66,528.45 127.05,529.14 128.44,529.8 129.83,530.42 131.22,531.02 132.61,531.58 133.99,532.11 135.38,532.61 136.77,533.09 138.16,533.54 139.55,533.98 140.94,534.39 142.33,534.79 143.72,535.16 145.11,535.53 146.5,535.88 147.89,536.22 149.27,536.54 150.66,536.85 152.05,537.14 153.44,537.41 154.83,537.68 156.22,537.93 157.61,538.17 159,538.4 160.39,538.62 161.78,538.83 163.17,539.04 164.56,539.24 165.94,539.44 167.33,539.62 168.72,539.8 170.11,539.96 171.5,540.09 172.89,540.21 174.28,540.32 175.67,540.43 177.06,540.52 178.45,540.61 179.84,540.7 181.23,540.78 182.61,540.86 184,540.93 185.39,541 186.78,541.06 188.17,541.12 189.56,541.18 190.95,541.24 192.34,541.29 193.73,541.35 195.12,541.4 196.51,541.46 197.9,541.51 199.28,541.56 200.67,541.61 202.06,541.66 203.45,541.7 204.84,541.74 206.23,541.78 207.62,541.82 209.01,541.85 210.4,541.87 211.79,541.9 213.18,541.92 214.56,541.93 215.95,541.94 217.34,541.95 218.73,541.96 220.12,541.96 221.51,541.97 222.9,541.98 224.29,541.99 225.68,542 227.07,542 228.46,542.01 229.85,542.02 231.23,542.03 232.62,542.03 234.01,542.04 235.4,542.05 236.79,542.05 238.18,542.06 239.57,542.07 240.96,542.07 242.35,542.08 243.74,542.08 245.13,542.09 246.52,542.1 247.9,542.1 249.29,542.11 250.68,542.11 252.07,542.12 253.46,542.12 254.85,542.13 256.24,542.13 257.63,542.14 259.02,542.14 260.41,542.15 261.8,542.15 263.19,542.15 264.57,542.16 265.96,542.16 267.35,542.16 268.74,542.17 270.13,542.17 271.52,542.18 272.91,542.18 274.3,542.18 275.69,542.18 277.08,542.19 278.47,542.19 279.85,542.19 281.24,542.19 282.63,542.2 284.02,542.2 285.41,542.2 286.8,542.2 288.19,542.21 289.58,542.21 290.97,542.21 292.36,542.21 293.75,542.21 295.14,542.21 296.52,542.21 297.91,542.22 299.3,542.22 300.69,542.22 302.08,542.22 303.47,542.22 304.86,542.22 306.25,542.22 307.64,542.22 309.03,542.22 310.42,542.22 311.81,542.22 312.5,542.22"/>
<path class="c" stroke="#00bfbf" stroke-dashoffset="8.6" d="M34.67,372.09 34.95,373.05 35.23,374.01 35.5,374.98 35.78,375.94 36.06,376.92 36.34,377.94 36.61,379.02 36.89,380.13 37.17,381.26 37.45,382.4 37.73,383.53 38,384.63 38.28,385.7 38.56,386.74 38.84,387.78 39.12,388.8 39.39,389.8 39.67,390.77 39.95,391.72 40.23,392.65 40.5,393.56 40.78,394.45 41.06,395.32 41.34,396.17 41.62,396.99 41.89,397.8 42.17,398.6 42.45,399.38 42.73,400.15 43,400.9 43.42,402.01 43.84,403.09 44.26,404.15 44.67,405.19 45.09,406.21 45.51,407.22 45.92,408.2 46.34,409.15 46.76,410.09 47.17,411.01 47.59,411.91 48.01,412.8 48.42,413.68 48.84,414.56 49.26,415.44 49.67,416.32 50.09,417.21 50.51,418.1 50.92,419 51.34,419.91 51.76,420.84 52.17,421.77 52.59,422.71 53.01,423.65 53.42,424.59 53.84,425.53 54.26,426.46 54.67,427.37 55.09,428.28 55.51,429.17 55.92,430.04 56.34,430.91 56.76,431.76 57.17,432.61 57.59,433.45 58.01,434.28 58.42,435.12 58.84,435.95 59.26,436.79 59.67,437.63 60.09,438.48 60.51,439.34 60.92,440.2 61.34,441.08 61.76,441.96 62.18,442.84 62.59,443.73 63.01,444.62 63.43,445.51 63.84,446.39 64.26,447.27 64.68,448.15 65.09,449.03 65.51,449.9 65.93,450.78 66.34,451.65 66.76,452.53 67.18,453.4 67.59,454.27 68.01,455.14 68.43,456.02 68.84,456.89 69.26,457.76 69.68,458.63 70.09,459.51 70.51,460.38 70.93,461.25 71.34,462.11 71.76,462.98 72.18,463.84 72.59,464.69 73.01,465.55 73.43,466.4 73.84,467.26 74.26,468.11 74.68,468.97 75.09,469.81 75.51,470.65 75.93,471.48 76.34,472.3 77.04,473.64 77.73,474.94 78.43,476.21 79.12,477.46 79.82,478.7 80.51,479.92 81.21,481.15 81.9,482.37 82.6,483.6 83.29,484.83 83.98,486.06 84.68,487.29 85.37,488.5 86.07,489.69 86.76,490.86 87.46,492 88.15,493.12 88.85,494.23 89.54,495.31 90.24,496.39 90.93,497.44 91.63,498.48 92.32,499.5 93.01,500.5 93.71,501.48 94.4,502.44 95.1,503.39 95.79,504.32 96.49,505.24 97.18,506.15 97.88,507.03 98.57,507.91 99.27,508.76 99.96,509.59 100.65,510.4 101.35,511.21 102.04,512 102.74,512.77 103.43,513.53 104.13,514.26 104.82,514.97 105.52,515.66 106.21,516.33 106.91,516.96 107.6,517.57 108.29,518.16 108.99,518.73 109.68,519.28 110.38,519.81 111.07,520.34 111.77,520.84 112.46,521.34 113.16,521.82 113.85,522.3 114.55,522.77 115.24,523.23 115.94,523.68 116.63,524.13 117.32,524.57 118.02,525.01 118.71,525.44 119.41,525.86 120.1,526.27 120.8,526.67 122.19,527.44 123.58,528.18 124.96,528.87 126.35,529.52 127.74,530.14 129.13,530.74 130.52,531.3 131.91,531.84 133.3,532.35 134.69,532.83 136.08,533.3 137.47,533.75 138.86,534.17 140.25,534.58 141.63,534.97 143.02,535.34 144.41,535.69 145.8,536.03 147.19,536.36 148.58,536.67 149.97,536.96 151.36,537.24 152.75,537.51 154.14,537.78 155.53,538.03 156.92,538.27 158.3,538.5 159.69,538.72 161.08,538.92 162.47,539.12 163.86,539.31 165.25,539.5 166.64,539.67 168.03,539.84 169.42,539.99 170.81,540.13 172.2,540.25 173.58,540.36 174.97,540.46 176.36,540.55 177.75,540.64 179.14,540.73 180.53,540.81 181.92,540.89 183.31,540.96 184.7,541.02 186.09,541.09 187.48,541.14 188.87,541.2 190.25,541.25 191.64,541.31 193.03,541.36 194.42,541.41 195.81,541.47 197.2,541.52 198.59,541.57 199.98,541.62 201.37,541.66 202.76,541.7 204.15,541.75 205.54,541.78 206.92,541.82 208.31,541.85 209.7,541.88 211.09,541.9 212.48,541.92 213.87,541.94 215.26,541.95 216.65,541.96 218.04,541.97 219.43,541.97 220.82,541.98 222.21,541.99 223.59,542 224.98,542 226.37,542.01 227.76,542.02 229.15,542.03 230.54,542.03 231.93,542.04 233.32,542.05 234.71,542.05 236.1,542.06 237.49,542.07 238.88,542.07 240.26,542.08 241.65,542.08 243.04,542.09 244.43,542.09 245.82,542.1 247.21,542.11 248.6,542.11 249.99,542.12 251.38,542.12 252.77,542.12 254.16,542.13 255.54,542.13 256.93,542.14 258.32,542.14 259.71,542.15 261.1,542.15 262.49,542.15 263.88,542.16 265.27,542.16 266.66,542.17 268.05,542.17 269.44,542.17 270.83,542.18 272.21,542.18 273.6,542.18 274.99,542.18 276.38,542.19 277.77,542.19 279.16,542.19 280.55,542.2 281.94,542.2 283.33,542.2 284.72,542.2 286.11,542.2 287.5,542.21 288.88,542.21 290.27,542.21 291.66,542.21 293.05,542.21 294.44,542.21 295.83,542.21 297.22,542.22 298.61,542.22 300,542.22 301.39,542.22 302.78,542.22 304.17,542.22 305.55,542.22 306.94,542.22 308.33,542.22 309.72,542.22 311.11,542.22 312.5,542.22"/>
<path class="c" stroke="#bf00bf" stroke-dashoffset="8.6" d="M34.67,384.25 34.95,385.15 35.23,386.05 35.5,386.96 35.78,387.87 36.06,388.78 36.34,389.73 36.61,390.7 36.89,391.7 37.17,392.71 37.45,393.74 37.73,394.75 38,395.76 38.28,396.74 38.56,397.72 38.84,398.68 39.12,399.62 39.39,400.55 39.67,401.45 39.95,402.33 40.23,403.19 40.5,404.03 40.78,404.85 41.06,405.66 41.34,406.46 41.62,407.24 41.89,408.01 42.17,408.76 42.59,409.87 43,410.96 43.42,412.02 43.84,413.07 44.26,414.09 44.67,415.1 45.09,416.09 45.51,417.06 45.92,418.01 46.34,418.95 46.76,419.86 47.17,420.77 47.59,421.66 48.01,422.54 48.42,423.41 48.84,424.28 49.26,425.15 49.67,426.01 50.09,426.88 50.51,427.75 50.92,428.62 51.34,429.5 51.76,430.37 52.17,431.25 52.59,432.13 53.01,433.01 53.42,433.89 53.84,434.76 54.26,435.62 54.67,436.47 55.09,437.32 55.51,438.16 55.92,438.98 56.34,439.8 56.76,440.6 57.17,441.4 57.59,442.19 58.01,442.97 58.42,443.75 58.84,444.53 59.26,445.31 59.67,446.09 60.09,446.87 60.51,447.66 60.92,448.46 61.34,449.25 61.76,450.06 62.18,450.86 62.59,451.67 63.01,452.48 63.43,453.29 63.84,454.1 64.26,454.91 64.68,455.72 65.09,456.52 65.51,457.33 65.93,458.14 66.34,458.94 66.76,459.75 67.18,460.55 67.59,461.35 68.01,462.16 68.43,462.96 68.84,463.76 69.26,464.56 69.68,465.37 70.09,466.17 70.51,466.96 70.93,467.76 71.34,468.56 71.76,469.35 72.18,470.14 72.59,470.93 73.01,471.71 73.43,472.49 73.84,473.28 74.26,474.06 74.68,474.84 75.09,475.61 75.51,476.38 75.93,477.15 76.34,477.91 77.04,479.15 77.73,480.38 78.43,481.58 79.12,482.76 79.82,483.93 80.51,485.09 81.21,486.26 81.9,487.41 82.6,488.57 83.29,489.71 83.98,490.85 84.68,491.98 85.37,493.08 86.07,494.15 86.76,495.2 87.46,496.23 88.15,497.25 88.85,498.24 89.54,499.22 90.24,500.18 90.93,501.12 91.63,502.05 92.32,502.97 93.01,503.86 93.71,504.74 94.4,505.6 95.1,506.44 95.79,507.27 96.49,508.09 97.18,508.9 97.88,509.69 98.57,510.47 99.27,511.23 99.96,511.98 100.65,512.71 101.35,513.43 102.04,514.13 102.74,514.82 103.43,515.49 104.13,516.14 104.82,516.76 105.52,517.37 106.21,517.97 106.91,518.54 107.6,519.09 108.29,519.63 108.99,520.16 109.68,520.67 110.38,521.16 111.07,521.65 111.77,522.12 112.46,522.59 113.16,523.05 113.85,523.49 114.55,523.93 115.24,524.36 115.94,524.79 116.63,525.21 117.32,525.62 118.02,526.03 118.71,526.43 120.1,527.21 121.49,527.96 122.88,528.66 124.27,529.33 125.66,529.95 127.05,530.53 128.44,531.09 129.83,531.62 131.22,532.13 132.61,532.61 133.99,533.08 135.38,533.53 136.77,533.96 138.16,534.38 139.55,534.79 140.94,535.17 142.33,535.53 143.72,535.87 145.11,536.2 146.5,536.51 147.89,536.81 149.27,537.09 150.66,537.36 152.05,537.63 153.44,537.88 154.83,538.13 156.22,538.37 157.61,538.6 159,538.82 160.39,539.03 161.78,539.21 163.17,539.39 164.56,539.57 165.94,539.74 167.33,539.89 168.72,540.04 170.11,540.18 171.5,540.3 172.89,540.4 174.28,540.5 175.67,540.59 177.06,540.68 178.45,540.76 179.84,540.84 181.23,540.91 182.61,540.98 184,541.05 185.39,541.11 186.78,541.17 188.17,541.22 189.56,541.27 190.95,541.33 192.34,541.38 193.73,541.43 195.12,541.48 196.51,541.53 197.9,541.58 199.28,541.62 200.67,541.67 202.06,541.71 203.45,541.75 204.84,541.79 206.23,541.82 207.62,541.85 209.01,541.88 210.4,541.91 211.79,541.93 213.18,541.95 214.56,541.96 215.95,541.97 217.34,541.98 218.73,541.98 220.12,541.99 221.51,542 222.9,542.01 224.29,542.01 225.68,542.02 227.07,542.03 228.46,542.03 229.85,542.04 231.23,542.05 232.62,542.05 234.01,542.06 235.4,542.06 236.79,542.07 238.18,542.08 239.57,542.08 240.96,542.09 242.35,542.09 243.74,542.1 245.13,542.1 246.52,542.11 247.9,542.11 249.29,542.12 250.68,542.12 252.07,542.13 253.46,542.13 254.85,542.14 256.24,542.14 257.63,542.15 259.02,542.15 260.41,542.15 261.8,542.16 263.19,542.16 264.57,542.16 265.96,542.17 267.35,542.17 268.74,542.17 270.13,542.18 271.52,542.18 272.91,542.18 274.3,542.19 275.69,542.19 277.08,542.19 278.47,542.19 279.85,542.2 281.24,542.2 282.63,542.2 284.02,542.2 285.41,542.2 286.8,542.21 288.19,542.21 289.58,542.21 290.97,542.21 292.36,542.21 293.75,542.21 295.14,542.21 296.52,542.22 297.91,542.22 299.3,542.22 300.69,542.22 302.08,542.22 303.47,542.22 304.86,542.22 306.25,542.22 307.64,542.22 309.03,542.22 310.42,542.22 311.81,542.22 312.5,542.22"/>
<path class="c" stroke="#bfbf00" stroke-dashoffset="8.6" d="M34.67,396.4 34.95,397.25 35.23,398.09 35.5,398.94 35.78,399.79 36.06,400.65 36.34,401.51 36.61,402.38 36.89,403.27 37.17,404.16 37.45,405.07 37.73,405.98 38,406.89 38.28,407.79 38.56,408.69 38.84,409.57 39.12,410.45 39.39,411.3 39.67,412.13 39.95,412.93 40.23,413.72 40.5,414.49 40.78,415.26 41.06,416.01 41.48,417.12 41.89,418.21 42.31,419.28 42.73,420.33 43.14,421.36 43.56,422.38 43.98,423.38 44.39,424.36 44.81,425.33 45.23,426.28 45.64,427.22 46.06,428.14 46.48,429.04 46.89,429.94 47.31,430.82 47.73,431.7 48.14,432.57 48.56,433.43 48.98,434.29 49.39,435.14 49.81,435.99 50.23,436.84 50.65,437.68 51.06,438.52 51.48,439.36 51.9,440.19 52.31,441.01 52.73,441.83 53.15,442.64 53.56,443.45 53.98,444.25 54.4,445.05 54.81,445.84 55.23,446.62 55.65,447.4 56.06,448.17 56.48,448.94 56.9,449.69 57.31,450.44 57.73,451.18 58.15,451.91 58.56,452.64 58.98,453.36 59.4,454.08 59.81,454.79 60.23,455.51 60.65,456.23 61.06,456.95 61.48,457.67 61.9,458.4 62.31,459.13 62.73,459.86 63.15,460.59 63.56,461.32 63.98,462.06 64.4,462.79 64.81,463.53 65.23,464.27 65.65,465 66.06,465.74 66.48,466.47 66.9,467.21 67.32,467.95 67.73,468.68 68.15,469.41 68.57,470.15 68.98,470.88 69.4,471.61 69.82,472.34 70.23,473.07 70.65,473.79 71.07,474.52 71.48,475.24 71.9,475.96 72.32,476.68 72.73,477.4 73.15,478.11 73.57,478.82 73.98,479.53 74.4,480.23 74.82,480.94 75.23,481.65 75.65,482.35 76.07,483.05 77.04,484.67 77.73,485.81 78.43,486.94 79.12,488.06 79.82,489.16 80.51,490.26 81.21,491.36 81.9,492.46 82.6,493.54 83.29,494.6 83.98,495.64 84.68,496.66 85.37,497.66 86.07,498.62 86.76,499.55 87.46,500.47 88.15,501.37 88.85,502.25 89.54,503.12 90.24,503.97 90.93,504.81 91.63,505.63 92.32,506.43 93.01,507.22 93.71,508 94.4,508.76 95.1,509.5 95.79,510.23 96.49,510.94 97.18,511.65 97.88,512.35 98.57,513.03 99.27,513.7 99.96,514.36 100.65,515.01 101.35,515.64 102.04,516.26 102.74,516.86 103.43,517.44 104.13,518.01 104.82,518.55 105.52,519.09 106.21,519.61 106.91,520.12 107.6,520.62 108.29,521.11 108.99,521.58 109.68,522.05 110.38,522.51 111.07,522.96 111.77,523.41 112.46,523.84 113.16,524.27 113.85,524.68 114.55,525.1 115.24,525.5 115.94,525.9 117.32,526.68 118.71,527.43 120.1,528.16 121.49,528.85 122.88,529.51 124.27,530.12 125.66,530.7 127.05,531.23 128.44,531.74 129.83,532.22 131.22,532.68 132.61,533.13 133.99,533.56 135.38,533.99 136.77,534.4 138.16,534.81 139.55,535.19 140.94,535.56 142.33,535.91 143.72,536.23 145.11,536.53 146.5,536.82 147.89,537.1 149.27,537.36 150.66,537.62 152.05,537.87 153.44,538.11 154.83,538.36 156.22,538.59 157.61,538.82 159,539.03 160.39,539.23 161.78,539.4 163.17,539.57 164.56,539.73 165.94,539.89 167.33,540.03 168.72,540.16 170.11,540.29 171.5,540.4 172.89,540.49 174.28,540.59 175.67,540.67 177.06,540.76 178.45,540.83 179.84,540.91 181.23,540.98 182.61,541.04 184,541.11 185.39,541.17 186.78,541.22 188.17,541.27 189.56,541.32 190.95,541.37 192.34,541.42 193.73,541.47 195.12,541.52 196.51,541.56 197.9,541.61 199.28,541.65 200.67,541.7 202.06,541.74 203.45,541.77 204.84,541.81 206.23,541.84 207.62,541.87 209.01,541.9 210.4,541.93 211.79,541.95 213.18,541.96 214.56,541.97 215.95,541.98 217.34,541.99 218.73,542 220.12,542 221.51,542.01 222.9,542.02 224.29,542.02 225.68,542.03 227.07,542.04 228.46,542.04 229.85,542.05 231.23,542.06 232.62,542.06 234.01,542.07 235.4,542.07 236.79,542.08 238.18,542.08 239.57,542.09 240.96,542.1 242.35,542.1 243.74,542.11 245.13,542.11 246.52,542.12 247.9,542.12 249.29,542.12 250.68,542.13 252.07,542.13 253.46,542.14 254.85,542.14 256.24,542.15 257.63,542.15 259.02,542.15 260.41,542.16 261.8,542.16 263.19,542.16 264.57,542.17 265.96,542.17 267.35,542.17 268.74,542.18 270.13,542.18 271.52,542.18 272.91,542.18 274.3,542.19 275.69,542.19 277.08,542.19 278.47,542.19 279.85,542.2 281.24,542.2 282.63,542.2 284.02,542.2 285.41,542.2 286.8,542.21 288.19,542.21 289.58,542.21 290.97,542.21 292.36,542.21 293.75,542.21 295.14,542.21 296.52,542.22 297.91,542.22 299.3,542.22 300.69,542.22 302.08,542.22 303.47,542.22 304.86,542.22 306.25,542.22 307.64,542.22 309.03,542.22 310.42,542.22 311.81,542.22 312.5,542.22"/>
</g>
<text class="t tk" x="35.27" y="554.87" text-anchor="middle">0</text>
<text class="t tk" x="104.73" y="554.87" text-anchor="middle">5</text>
<text class="t tk" x="174.18" y="554.87" text-anchor="middle">10</text>
<text class="t tk" x="243.64" y="554.87" text-anchor="middle">15</text>
<text class="t tk" x="313.1" y="554.87" text-anchor="middle">20</text>
<text class="t tk" x="32.77" y="546.47" text-anchor="end">0</text>
<text class="t tk" x="32.77" y="522.16" text-anchor="end">10</text>
<text class="t tk" x="32.77" y="497.85" text-anchor="end">20</text>
<text class="t tk" x="32.77" y="473.54" text-anchor="end">30</text>
<text class="t tk" x="32.77" y="449.23" text-anchor="end">40</text>
<text class="t tk" x="32.77" y="424.91" text-anchor="end">50</text>
<text class="t tk" x="32.77" y="400.6" text-anchor="end">60</text>
<text class="t tk" x="32.77" y="376.29" text-anchor="end">70</text>
<text class="t tk" x="32.77" y="351.98" text-anchor="end">80</text>
<text class="t tk" x="32.77" y="327.67" text-anchor="end">90</text>
<text class="t lb" x="173.59" y="568.07" text-anchor="middle">Time (Months)</text>
<text class="t lb" transform="translate(14,432.87) rotate(-90)" text-anchor="middle">Chronic Population (B(t))</text>
<rect x="229.6" y="327.6" width="78.9" height="79.2" fill="#fff" stroke="#484848" stroke-width="0.8"/>
<path class="c" style="stroke-width:2" stroke="#0000ff" stroke-dashoffset="9.1" d="M234.6,335.8H260.6"/>
<text class="t lg" x="263.2" y="339.8">B(0) = 85</text>
<path class="c" style="stroke-width:2" stroke="#008000" stroke-dashoffset="9.1" d="M234.6,348.46H260.6"/>
<text class="t lg" x="263.2" y="352.46">B(0) = 80</text>
<path class="c" style="stroke-width:2" stroke="#ff0000" stroke-dashoffset="9.1" d="M234.6,361.12H260.6"/>
<text class="t lg" x="263.2" y="365.12">B(0) = 75</text>
<path class="c" style="stroke-width:2" stroke="#00bfbf" stroke-dashoffset="9.1" d="M234.6,373.78H260.6"/>
<text class="t lg" x="263.2" y="377.78">B(0) = 70</text>
<path class="c" style="stroke-width:2" stroke="#bf00bf" stroke-dashoffset="9.1" d="M234.6,386.44H260.6"/>
<text class="t lg" x="263.2" y="390.44">B(0) = 65</text>
<path class="c" style="stroke-width:2" stroke="#bfbf00" stroke-dashoffset="9.1" d="M234.6,399.1H260.6"/>
<text class="t lg" x="263.2" y="403.1">B(0) = 60</text>
</g>
<g>
<clipPath id="cp3"><rect x="400.07" y="322.47" width="278.56" height="221.1"/></clipPath>
<rect class="ax" x="400.27" y="323.47" width="277.86" height="218.8"/>
<path class="ax" d="M469.74,542.27v-2.7 M469.74,323.47v2.7 M539.2,542.27v-2.7 M539.2,323.47v2.7 M608.66,542.27v-2.7 M608.66,323.47v2.7 M400.27,517.96h2.7 M678.13,517.96h-2.7 M400.27,493.65h2.7 M678.13,493.65h-2.7 M400.27,469.34h2.7 M678.13,469.34h-2.7 M400.27,445.03h2.7 M678.13,445.03h-2.7 M400.27,420.71h2.7 M678.13,420.71h-2.7 M400.27,396.4h2.7 M678.13,396.4h-2.7 M400.27,372.09h2.7 M678.13,372.09h-2.7 M400.27,347.78h2.7 M678.13,347.78h-2.7"/>
<g clip-path="url(#cp3)">
<path class="c" stroke="#0000ff" stroke-dashoffset="8.6" d="M400.27,469.34 400.55,468.35 400.83,467.38 401.1,466.44 401.38,465.52 401.66,464.61 401.94,463.71 402.22,462.82 402.49,461.93 402.77,461.06 403.05,460.19 403.33,459.32 403.6,458.46 403.88,457.6 404.16,456.74 404.44,455.89 404.72,455.03 404.99,454.18 405.27,453.32 405.55,452.46 405.83,451.59 406.11,450.72 406.38,449.86 406.66,448.99 406.94,448.13 407.22,447.26 407.49,446.4 407.77,445.54 408.05,444.68 408.33,443.82 408.61,442.96 408.88,442.1 409.16,441.24 409.44,440.38 409.72,439.52 410,438.66 410.27,437.81 410.55,436.95 410.83,436.09 411.11,435.22 411.38,434.36 411.66,433.49 411.94,432.62 412.22,431.76 412.5,430.89 412.77,430.02 413.05,429.15 413.33,428.29 413.61,427.43 413.89,426.57 414.16,425.71 414.44,424.86 414.72,424.02 415,423.18 415.27,422.34 415.55,421.52 415.83,420.69 416.11,419.87 416.39,419.04 416.66,418.22 416.94,417.4 417.22,416.59 417.5,415.78 417.78,414.97 418.05,414.17 418.33,413.37 418.61,412.58 418.89,411.79 419.16,411.01 419.44,410.24 419.72,409.47 420,408.71 420.28,407.96 420.69,406.85 421.11,405.75 421.53,404.66 421.94,403.58 422.36,402.51 422.78,401.45 423.19,400.4 423.61,399.36 424.03,398.33 424.44,397.31 424.86,396.3 425.28,395.3 425.69,394.31 426.11,393.33 426.53,392.35 426.94,391.38 427.36,390.42 427.78,389.47 428.19,388.52 428.61,387.59 429.03,386.66 429.45,385.75 429.86,384.85 430.28,383.95 430.7,383.08 431.11,382.21 431.53,381.37 431.95,380.53 432.36,379.71 432.78,378.9 433.2,378.1 433.61,377.3 434.03,376.52 434.45,375.75 434.86,375 435.28,374.25 435.7,373.52 436.11,372.79 436.53,372.08 436.95,371.38 437.36,370.69 437.78,370.01 438.34,369.11 438.89,368.22 439.45,367.35 440,366.49 440.56,365.65 441.12,364.83 441.67,364.02 442.64,362.64 443.34,361.69 444.03,360.77 444.73,359.85 445.42,358.96 446.12,358.09 446.81,357.24 447.51,356.41 448.2,355.6 448.9,354.82 449.59,354.06 450.28,353.33 450.98,352.61 451.67,351.91 452.37,351.22 453.06,350.55 453.76,349.9 454.45,349.26 455.15,348.64 455.84,348.03 456.54,347.44 457.23,346.86 457.93,346.3 458.62,345.75 459.32,345.21 460.01,344.67 460.7,344.14 461.4,343.63 462.09,343.12 462.79,342.63 463.48,342.16 464.18,341.7 464.87,341.27 465.57,340.85 466.96,340.1 468.35,339.42 469.74,338.78 471.12,338.19 472.51,337.65 473.9,337.15 475.29,336.71 476.68,336.29 478.07,335.89 479.46,335.52 480.85,335.18 482.24,334.87 483.63,334.61 485.02,334.39 486.41,334.2 487.8,334.02 489.19,333.85 490.57,333.7 491.96,333.58 493.35,333.49 494.74,333.44 496.13,333.42 497.52,333.39 498.91,333.37 500.3,333.36 501.69,333.34 503.08,333.33 504.47,333.32 505.86,333.32 507.25,333.32 508.64,333.34 510.02,333.38 511.41,333.45 512.8,333.54 514.19,333.63 515.58,333.73 516.97,333.83 518.36,333.92 519.75,334.02 521.14,334.12 522.53,334.22 523.92,334.33 525.31,334.45 526.7,334.57 528.09,334.69 529.47,334.82 530.86,334.95 532.25,335.09 533.64,335.22 535.03,335.36 536.42,335.51 537.81,335.65 539.2,335.8 540.59,335.94 541.98,336.09 543.37,336.25 544.76,336.41 546.15,336.57 547.54,336.74 548.93,336.91 550.31,337.09 551.7,337.27 553.09,337.45 554.48,337.63 555.87,337.82 557.26,338.01 558.65,338.2 560.04,338.39 561.43,338.58 562.82,338.78 564.21,338.97 565.6,339.17 566.99,339.36 568.38,339.56 569.76,339.76 571.15,339.96 572.54,340.16 573.93,340.36 575.32,340.57 576.71,340.78 578.1,340.99 579.49,341.21 580.88,341.42 582.27,341.64 583.66,341.86 585.05,342.08 586.44,342.3 587.83,342.52 589.21,342.74 590.6,342.96 591.99,343.18 593.38,343.41 594.77,343.63 596.16,343.85 597.55,344.07 598.94,344.29 600.33,344.52 601.72,344.75 603.11,344.97 604.5,345.2 605.89,345.43 607.28,345.66 608.66,345.88 610.05,346.11 611.44,346.34 612.83,346.57 614.22,346.8 615.61,347.03 617,347.26 618.39,347.5 619.78,347.73 621.17,347.96 622.56,348.19 623.95,348.42 625.34,348.64 626.73,348.87 628.12,349.1 629.5,349.33 630.89,349.56 632.28,349.78 633.67,350.01 635.06,350.23 636.45,350.46 637.84,350.68 639.23,350.9 640.62,351.12 642.01,351.35 643.4,351.57 644.79,351.79 646.18,352.01 647.57,352.23 648.95,352.45 650.34,352.67 651.73,352.89 653.12,353.11 654.51,353.33 655.9,353.55 657.29,353.77 658.68,353.99 660.07,354.21 661.46,354.42 662.85,354.64 664.24,354.86 665.63,355.08 667.02,355.29 668.4,355.51 669.79,355.73 671.18,355.94 672.57,356.16 673.96,356.37 675.35,356.59 676.74,356.8 678.13,357.02"/>
<path class="c" stroke="#008000" stroke-dashoffset="8.6" d="M400.27,481.49 400.55,480.54 400.83,479.59 401.1,478.68 401.38,477.78 401.66,476.9 401.94,476.02 402.22,475.16 402.49,474.3 402.77,473.46 403.05,472.62 403.33,471.79 403.6,470.97 403.88,470.15 404.16,469.33 404.44,468.52 404.72,467.71 404.99,466.9 405.27,466.08 405.55,465.27 405.83,464.45 406.11,463.63 406.38,462.81 406.66,462 406.94,461.18 407.22,460.36 407.49,459.55 407.77,458.73 408.05,457.91 408.33,457.09 408.61,456.28 408.88,455.46 409.16,454.64 409.44,453.82 409.72,453.01 410,452.19 410.27,451.37 410.55,450.56 410.83,449.74 411.11,448.93 411.38,448.11 411.66,447.29 411.94,446.48 412.22,445.66 412.5,444.85 412.77,444.04 413.05,443.23 413.33,442.42 413.61,441.62 413.89,440.82 414.16,440.02 414.44,439.23 414.72,438.44 415,437.66 415.27,436.88 415.55,436.11 415.83,435.35 416.11,434.58 416.39,433.81 416.66,433.05 416.94,432.29 417.22,431.54 417.5,430.78 417.91,429.66 418.33,428.55 418.75,427.45 419.16,426.36 419.58,425.29 420,424.22 420.41,423.18 420.83,422.15 421.25,421.13 421.67,420.12 422.08,419.12 422.5,418.13 422.92,417.14 423.33,416.17 423.75,415.21 424.17,414.25 424.58,413.31 425,412.37 425.42,411.44 425.83,410.52 426.25,409.61 426.67,408.7 427.08,407.8 427.5,406.91 427.92,406.02 428.33,405.15 428.75,404.28 429.17,403.42 429.58,402.58 430,401.74 430.42,400.92 430.83,400.11 431.25,399.31 431.67,398.53 432.08,397.75 432.5,396.99 432.92,396.24 433.34,395.49 433.75,394.75 434.17,394.03 434.59,393.31 435,392.61 435.42,391.91 435.84,391.23 436.39,390.34 436.95,389.46 437.5,388.6 438.06,387.75 438.61,386.92 439.17,386.1 439.73,385.3 440.28,384.51 440.84,383.73 441.39,382.97 441.95,382.23 442.64,381.32 443.34,380.43 444.03,379.56 444.73,378.72 445.42,377.88 446.12,377.07 446.81,376.27 447.51,375.49 448.2,374.74 448.9,374 449.59,373.29 450.28,372.6 450.98,371.92 451.67,371.26 452.37,370.61 453.06,369.98 453.76,369.36 454.45,368.76 455.15,368.17 455.84,367.61 456.54,367.05 457.23,366.51 457.93,365.98 458.62,365.46 459.32,364.95 460.01,364.45 460.7,363.95 461.4,363.46 462.09,362.99 462.79,362.53 463.48,362.08 464.18,361.66 464.87,361.25 466.26,360.49 467.65,359.82 469.04,359.19 470.43,358.6 471.82,358.06 473.21,357.57 474.6,357.12 475.99,356.7 477.38,356.31 478.77,355.94 480.15,355.6 481.54,355.29 482.93,355.02 484.32,354.78 485.71,354.58 487.1,354.39 488.49,354.21 489.88,354.05 491.27,353.92 492.66,353.81 494.05,353.73 495.44,353.68 496.83,353.65 498.22,353.61 499.6,353.58 500.99,353.55 502.38,353.53 503.77,353.51 505.16,353.5 506.55,353.49 507.94,353.5 509.33,353.53 510.72,353.59 512.11,353.66 513.5,353.74 514.89,353.83 516.28,353.92 517.67,354.01 519.06,354.1 520.44,354.19 521.83,354.28 523.22,354.38 524.61,354.49 526,354.6 527.39,354.72 528.78,354.84 530.17,354.96 531.56,355.09 532.95,355.22 534.34,355.35 535.73,355.49 537.12,355.62 538.51,355.76 539.89,355.9 541.28,356.04 542.67,356.19 544.06,356.34 545.45,356.5 546.84,356.66 548.23,356.83 549.62,356.99 551.01,357.17 552.4,357.34 553.79,357.52 555.18,357.7 556.57,357.88 557.96,358.06 559.34,358.24 560.73,358.43 562.12,358.62 563.51,358.8 564.9,358.99 566.29,359.18 567.68,359.37 569.07,359.55 570.46,359.74 571.85,359.93 573.24,360.12 574.63,360.31 576.02,360.5 577.41,360.7 578.8,360.89 580.18,361.09 581.57,361.29 582.96,361.49 584.35,361.69 585.74,361.9 587.13,362.1 588.52,362.3 589.91,362.51 591.3,362.71 592.69,362.91 594.08,363.11 595.47,363.32 596.86,363.52 598.25,363.73 599.63,363.93 601.02,364.14 602.41,364.35 603.8,364.56 605.19,364.77 606.58,364.98 607.97,365.19 609.36,365.4 610.75,365.62 612.14,365.83 613.53,366.04 614.92,366.26 616.31,366.47 617.7,366.68 619.08,366.89 620.47,367.11 621.86,367.32 623.25,367.53 624.64,367.74 626.03,367.95 627.42,368.16 628.81,368.36 630.2,368.57 631.59,368.78 632.98,368.98 634.37,369.18 635.76,369.39 637.15,369.59 638.53,369.79 639.92,369.99 641.31,370.19 642.7,370.39 644.09,370.59 645.48,370.78 646.87,370.98 648.26,371.18 649.65,371.38 651.04,371.58 652.43,371.77 653.82,371.97 655.21,372.17 656.6,372.36 657.99,372.56 659.37,372.76 660.76,372.95 662.15,373.15 663.54,373.35 664.93,373.54 666.32,373.74 667.71,373.94 669.1,374.13 670.49,374.33 671.88,374.52 673.27,374.72 674.66,374.91 676.05,375.11 677.44,375.3 678.13,375.4"/>
<path class="c" stroke="#ff0000" stroke-dashoffset="8.6" d="M400.27,493.65 400.55,492.72 400.83,491.81 401.1,490.92 401.38,490.05 401.66,489.19 401.94,488.34 402.22,487.5 402.49,486.68 402.77,485.87 403.05,485.06 403.33,484.27 403.6,483.48 403.88,482.7 404.16,481.93 404.44,481.15 404.72,480.38 404.99,479.62 405.27,478.85 405.55,478.08 405.83,477.31 406.11,476.54 406.38,475.77 406.66,475 406.94,474.23 407.22,473.46 407.49,472.69 407.77,471.92 408.05,471.14 408.33,470.37 408.61,469.59 408.88,468.81 409.16,468.04 409.44,467.26 409.72,466.49 410,465.71 410.27,464.94 410.55,464.17 410.83,463.4 411.11,462.63 411.38,461.86 411.66,461.1 411.94,460.33 412.22,459.57 412.5,458.81 412.77,458.06 413.05,457.31 413.47,456.18 413.89,455.07 414.3,453.96 414.72,452.87 415.14,451.78 415.55,450.71 415.97,449.65 416.39,448.59 416.8,447.53 417.22,446.48 417.64,445.44 418.05,444.41 418.47,443.39 418.89,442.38 419.3,441.38 419.72,440.39 420.14,439.42 420.55,438.46 420.97,437.5 421.39,436.56 421.8,435.63 422.22,434.71 422.64,433.79 423.05,432.89 423.47,431.99 423.89,431.1 424.3,430.22 424.72,429.35 425.14,428.49 425.56,427.63 425.97,426.78 426.39,425.93 426.81,425.09 427.22,424.26 427.64,423.44 428.06,422.62 428.47,421.82 428.89,421.02 429.31,420.23 429.72,419.45 430.14,418.68 430.56,417.93 430.97,417.18 431.39,416.45 431.81,415.73 432.22,415.01 432.64,414.31 433.06,413.61 433.47,412.92 434.03,412.01 434.59,411.13 435.14,410.25 435.7,409.4 436.25,408.56 436.81,407.74 437.36,406.94 437.92,406.14 438.48,405.37 439.03,404.61 439.59,403.86 440.14,403.13 440.7,402.41 441.25,401.7 441.81,401 442.64,399.99 443.34,399.17 444.03,398.36 444.73,397.58 445.42,396.8 446.12,396.05 446.81,395.31 447.51,394.58 448.2,393.88 448.9,393.19 449.59,392.52 450.28,391.87 450.98,391.23 451.67,390.6 452.37,389.99 453.06,389.4 453.76,388.82 454.45,388.26 455.15,387.71 455.84,387.18 456.54,386.66 457.23,386.16 457.93,385.66 458.62,385.18 459.32,384.7 460.01,384.22 460.7,383.76 461.4,383.3 462.09,382.86 462.79,382.43 463.48,382.01 464.18,381.61 465.57,380.86 466.96,380.19 468.35,379.58 469.74,379 471.12,378.47 472.51,377.97 473.9,377.52 475.29,377.1 476.68,376.71 478.07,376.35 479.46,376.02 480.85,375.71 482.24,375.43 483.63,375.18 485.02,374.96 486.41,374.77 487.8,374.58 489.19,374.41 490.57,374.26 491.96,374.14 493.35,374.04 494.74,373.97 496.13,373.91 497.52,373.86 498.91,373.82 500.3,373.78 501.69,373.74 503.08,373.71 504.47,373.69 505.86,373.68 507.25,373.67 508.64,373.69 510.02,373.73 511.41,373.79 512.8,373.86 514.19,373.93 515.58,374.02 516.97,374.1 518.36,374.18 519.75,374.26 521.14,374.35 522.53,374.44 523.92,374.54 525.31,374.64 526.7,374.75 528.09,374.86 529.47,374.98 530.86,375.1 532.25,375.22 533.64,375.35 535.03,375.47 536.42,375.6 537.81,375.73 539.2,375.87 540.59,376 541.98,376.14 543.37,376.28 544.76,376.43 546.15,376.59 547.54,376.74 548.93,376.9 550.31,377.07 551.7,377.24 553.09,377.41 554.48,377.58 555.87,377.75 557.26,377.93 558.65,378.11 560.04,378.29 561.43,378.47 562.82,378.64 564.21,378.82 565.6,379 566.99,379.18 568.38,379.36 569.76,379.53 571.15,379.71 572.54,379.88 573.93,380.06 575.32,380.24 576.71,380.42 578.1,380.6 579.49,380.78 580.88,380.96 582.27,381.14 583.66,381.33 585.05,381.51 586.44,381.7 587.83,381.88 589.21,382.07 590.6,382.25 591.99,382.44 593.38,382.62 594.77,382.8 596.16,382.99 597.55,383.18 598.94,383.37 600.33,383.56 601.72,383.75 603.11,383.94 604.5,384.13 605.89,384.32 607.28,384.52 608.66,384.71 610.05,384.91 611.44,385.1 612.83,385.3 614.22,385.49 615.61,385.69 617,385.88 618.39,386.08 619.78,386.27 621.17,386.47 622.56,386.66 623.95,386.85 625.34,387.04 626.73,387.23 628.12,387.42 629.5,387.61 630.89,387.79 632.28,387.98 633.67,388.16 635.06,388.34 636.45,388.52 637.84,388.7 639.23,388.88 640.62,389.05 642.01,389.23 643.4,389.41 644.79,389.58 646.18,389.76 647.57,389.93 648.95,390.11 650.34,390.28 651.73,390.46 653.12,390.63 654.51,390.81 655.9,390.98 657.29,391.16 658.68,391.33 660.07,391.51 661.46,391.68 662.85,391.86 664.24,392.03 665.63,392.21 667.02,392.38 668.4,392.56 669.79,392.73 671.18,392.91 672.57,393.08 673.96,393.26 675.35,393.43 676.74,393.6 678.13,393.78"/>
<path class="c" stroke="#00bfbf" stroke-dashoffset="8.6" d="M400.27,505.8 400.55,504.91 400.83,504.03 401.1,503.16 401.38,502.31 401.66,501.47 401.94,500.65 402.22,499.84 402.49,499.05 402.77,498.27 403.05,497.5 403.33,496.74 403.74,495.62 404.16,494.52 404.58,493.42 404.99,492.34 405.41,491.26 405.83,490.17 406.24,489.09 406.66,488.01 407.08,486.93 407.49,485.84 407.91,484.74 408.33,483.64 408.74,482.54 409.16,481.44 409.58,480.34 410,479.24 410.41,478.15 410.83,477.06 411.25,475.97 411.66,474.9 412.08,473.83 412.5,472.77 412.91,471.73 413.33,470.69 413.75,469.66 414.16,468.64 414.58,467.63 415,466.63 415.41,465.64 415.83,464.66 416.25,463.68 416.66,462.71 417.08,461.75 417.5,460.8 417.91,459.85 418.33,458.91 418.75,457.98 419.16,457.06 419.58,456.15 420,455.26 420.41,454.37 420.83,453.49 421.25,452.62 421.67,451.76 422.08,450.91 422.5,450.07 422.92,449.24 423.33,448.41 423.75,447.59 424.17,446.78 424.58,445.98 425,445.18 425.42,444.38 425.83,443.6 426.25,442.82 426.67,442.05 427.08,441.28 427.5,440.52 427.92,439.77 428.33,439.02 428.75,438.29 429.17,437.56 429.58,436.84 430,436.13 430.42,435.44 430.83,434.75 431.39,433.85 431.95,432.97 432.5,432.09 433.06,431.23 433.61,430.39 434.17,429.55 434.72,428.73 435.28,427.93 435.84,427.14 436.39,426.37 436.95,425.61 437.5,424.87 438.06,424.14 438.61,423.43 439.17,422.74 439.73,422.05 440.28,421.38 440.84,420.72 441.39,420.08 441.95,419.44 442.64,418.66 443.34,417.91 444.03,417.16 444.73,416.44 445.42,415.72 446.12,415.02 446.81,414.34 447.51,413.67 448.2,413.01 448.9,412.37 449.59,411.75 450.28,411.14 450.98,410.54 451.67,409.95 452.37,409.38 453.06,408.82 453.76,408.28 454.45,407.76 455.15,407.25 455.84,406.76 456.54,406.28 457.23,405.8 457.93,405.34 458.62,404.89 459.32,404.44 460.01,404 460.7,403.56 461.4,403.14 462.09,402.73 462.79,402.32 464.18,401.56 465.57,400.86 466.96,400.23 468.35,399.66 469.74,399.12 471.12,398.61 472.51,398.13 473.9,397.7 475.29,397.3 476.68,396.92 478.07,396.58 479.46,396.26 480.85,395.98 482.24,395.71 483.63,395.46 485.02,395.25 486.41,395.05 487.8,394.87 489.19,394.69 490.57,394.54 491.96,394.41 493.35,394.31 494.74,394.23 496.13,394.16 497.52,394.1 498.91,394.04 500.3,393.99 501.69,393.94 503.08,393.9 504.47,393.87 505.86,393.86 507.25,393.85 508.64,393.87 510.02,393.9 511.41,393.95 512.8,394.02 514.19,394.09 515.58,394.16 516.97,394.24 518.36,394.31 519.75,394.39 521.14,394.47 522.53,394.55 523.92,394.65 525.31,394.74 526.7,394.84 528.09,394.95 529.47,395.06 530.86,395.17 532.25,395.29 533.64,395.41 535.03,395.53 536.42,395.65 537.81,395.78 539.2,395.9 540.59,396.03 541.98,396.16 543.37,396.3 544.76,396.44 546.15,396.59 547.54,396.74 548.93,396.9 550.31,397.06 551.7,397.22 553.09,397.39 554.48,397.55 555.87,397.72 557.26,397.89 558.65,398.06 560.04,398.24 561.43,398.41 562.82,398.58 564.21,398.75 565.6,398.92 566.99,399.09 568.38,399.25 569.76,399.42 571.15,399.58 572.54,399.74 573.93,399.91 575.32,400.07 576.71,400.24 578.1,400.4 579.49,400.57 580.88,400.73 582.27,400.9 583.66,401.06 585.05,401.23 586.44,401.39 587.83,401.56 589.21,401.73 590.6,401.89 591.99,402.06 593.38,402.23 594.77,402.39 596.16,402.56 597.55,402.73 598.94,402.9 600.33,403.07 601.72,403.25 603.11,403.42 604.5,403.59 605.89,403.77 607.28,403.95 608.66,404.12 610.05,404.3 611.44,404.48 612.83,404.66 614.22,404.84 615.61,405.02 617,405.19 618.39,405.37 619.78,405.55 621.17,405.72 622.56,405.9 623.95,406.07 625.34,406.24 626.73,406.41 628.12,406.58 629.5,406.75 630.89,406.91 632.28,407.07 633.67,407.23 635.06,407.39 636.45,407.55 637.84,407.71 639.23,407.86 640.62,408.02 642.01,408.17 643.4,408.33 644.79,408.48 646.18,408.63 647.57,408.78 648.95,408.94 650.34,409.09 651.73,409.24 653.12,409.39 654.51,409.54 655.9,409.7 657.29,409.85 658.68,410 660.07,410.16 661.46,410.31 662.85,410.46 664.24,410.62 665.63,410.77 667.02,410.93 668.4,411.08 669.79,411.23 671.18,411.39 672.57,411.54 673.96,411.7 675.35,411.85 676.74,412 678.13,412.16"/>
<path class="c" stroke="#bf00bf" stroke-dashoffset="8.6" d="M400.27,517.96 400.55,517.1 400.83,516.24 401.1,515.4 401.38,514.58 401.66,513.76 401.94,512.97 402.22,512.18 402.49,511.42 402.91,510.31 403.33,509.22 403.74,508.15 404.16,507.11 404.58,506.08 404.99,505.06 405.41,504.05 405.83,503.04 406.24,502.03 406.66,501.02 407.08,500 407.49,498.98 407.91,497.95 408.33,496.91 408.74,495.87 409.16,494.84 409.58,493.8 410,492.76 410.41,491.74 410.83,490.71 411.25,489.7 411.66,488.7 412.08,487.71 412.5,486.74 412.91,485.78 413.33,484.82 413.75,483.88 414.16,482.95 414.58,482.02 415,481.11 415.41,480.21 415.83,479.31 416.25,478.42 416.66,477.54 417.08,476.67 417.5,475.8 417.91,474.94 418.33,474.09 418.75,473.25 419.16,472.41 419.58,471.59 420,470.77 420.41,469.96 420.83,469.16 421.25,468.37 421.67,467.59 422.08,466.81 422.5,466.04 422.92,465.28 423.33,464.53 423.75,463.78 424.17,463.04 424.58,462.31 425,461.58 425.42,460.86 425.83,460.14 426.25,459.43 426.67,458.72 427.08,458.02 427.5,457.32 427.92,456.64 428.47,455.73 429.03,454.84 429.58,453.97 430.14,453.12 430.7,452.28 431.25,451.46 431.81,450.65 432.36,449.85 432.92,449.05 433.47,448.27 434.03,447.51 434.59,446.75 435.14,446.01 435.7,445.28 436.25,444.56 436.81,443.86 437.36,443.18 437.92,442.51 438.48,441.85 439.03,441.21 439.59,440.58 440.14,439.97 440.7,439.37 441.25,438.77 441.81,438.19 442.64,437.34 443.34,436.64 444.03,435.96 444.73,435.3 445.42,434.64 446.12,434 446.81,433.37 447.51,432.76 448.2,432.15 448.9,431.56 449.59,430.98 450.28,430.41 450.98,429.85 451.67,429.3 452.37,428.76 453.06,428.24 453.76,427.74 454.45,427.25 455.15,426.79 455.84,426.34 456.54,425.89 457.23,425.45 457.93,425.02 458.62,424.6 459.32,424.18 460.01,423.77 460.7,423.37 462.09,422.59 463.48,421.86 464.87,421.18 466.26,420.56 467.65,420 469.04,419.48 470.43,418.98 471.82,418.52 473.21,418.08 474.6,417.68 475.99,417.31 477.38,416.97 478.77,416.65 480.15,416.38 481.54,416.11 482.93,415.87 484.32,415.64 485.71,415.43 487.1,415.24 488.49,415.06 489.88,414.9 491.27,414.76 492.66,414.63 494.05,414.54 495.44,414.45 496.83,414.37 498.22,414.3 499.6,414.23 500.99,414.17 502.38,414.11 503.77,414.07 505.16,414.04 506.55,414.03 507.94,414.03 509.33,414.06 510.72,414.1 512.11,414.15 513.5,414.21 514.89,414.27 516.28,414.34 517.67,414.41 519.06,414.48 520.44,414.55 521.83,414.62 523.22,414.71 524.61,414.79 526,414.89 527.39,414.99 528.78,415.09 530.17,415.19 531.56,415.3 532.95,415.41 534.34,415.53 535.73,415.64 537.12,415.76 538.51,415.88 539.89,416 541.28,416.12 542.67,416.25 544.06,416.39 545.45,416.53 546.84,416.67 548.23,416.82 549.62,416.97 551.01,417.13 552.4,417.29 553.79,417.45 555.18,417.61 556.57,417.77 557.96,417.94 559.34,418.1 560.73,418.27 562.12,418.43 563.51,418.6 564.9,418.76 566.29,418.92 567.68,419.07 569.07,419.23 570.46,419.38 571.85,419.53 573.24,419.68 574.63,419.83 576.02,419.98 577.41,420.13 578.8,420.28 580.18,420.43 581.57,420.57 582.96,420.72 584.35,420.87 585.74,421.02 587.13,421.17 588.52,421.31 589.91,421.46 591.3,421.61 592.69,421.76 594.08,421.91 595.47,422.06 596.86,422.21 598.25,422.36 599.63,422.51 601.02,422.67 602.41,422.82 603.8,422.98 605.19,423.14 606.58,423.3 607.97,423.46 609.36,423.62 610.75,423.78 612.14,423.94 613.53,424.1 614.92,424.26 616.31,424.42 617.7,424.58 619.08,424.74 620.47,424.9 621.86,425.06 623.25,425.21 624.64,425.37 626.03,425.52 627.42,425.67 628.81,425.81 630.2,425.96 631.59,426.1 632.98,426.24 634.37,426.38 635.76,426.52 637.15,426.65 638.53,426.78 639.92,426.92 641.31,427.05 642.7,427.18 644.09,427.31 645.48,427.44 646.87,427.57 648.26,427.7 649.65,427.83 651.04,427.96 652.43,428.09 653.82,428.22 655.21,428.35 656.6,428.48 657.99,428.61 659.37,428.74 660.76,428.87 662.15,429.01 663.54,429.14 664.93,429.27 666.32,429.4 667.71,429.54 669.1,429.67 670.49,429.8 671.88,429.94 673.27,430.07 674.66,430.2 676.05,430.34 677.44,430.47 678.13,430.54"/>
<path class="c" stroke="#bfbf00" stroke-dashoffset="8.6" d="M400.27,530.11 400.55,529.28 400.83,528.46 401.1,527.64 401.38,526.84 401.66,526.05 401.94,525.28 402.22,524.53 402.63,523.43 403.05,522.38 403.47,521.35 403.88,520.35 404.3,519.38 404.72,518.41 405.13,517.46 405.55,516.52 405.97,515.59 406.38,514.65 406.8,513.71 407.22,512.76 407.63,511.8 408.05,510.83 408.47,509.86 408.88,508.89 409.3,507.91 409.72,506.94 410.13,505.97 410.55,505.01 410.97,504.06 411.38,503.12 411.8,502.19 412.22,501.29 412.63,500.41 413.05,499.53 413.47,498.67 413.89,497.82 414.3,496.98 414.72,496.14 415.14,495.32 415.55,494.5 415.97,493.7 416.39,492.9 416.8,492.11 417.22,491.32 417.64,490.55 418.05,489.78 418.47,489.02 418.89,488.26 419.3,487.52 419.72,486.78 420.14,486.04 420.55,485.32 420.97,484.6 421.39,483.88 421.8,483.18 422.22,482.48 422.64,481.78 423.05,481.1 423.61,480.2 424.17,479.3 424.72,478.42 425.28,477.55 425.83,476.68 426.39,475.82 426.94,474.97 427.5,474.13 428.06,473.3 428.61,472.49 429.17,471.69 429.72,470.91 430.28,470.14 430.83,469.39 431.39,468.66 431.95,467.92 432.5,467.2 433.06,466.48 433.61,465.78 434.17,465.08 434.72,464.39 435.28,463.72 435.84,463.05 436.39,462.4 436.95,461.77 437.5,461.14 438.06,460.54 438.61,459.94 439.17,459.37 439.87,458.67 440.56,457.98 441.25,457.31 441.95,456.65 442.64,456.01 443.34,455.38 444.03,454.76 444.73,454.16 445.42,453.56 446.12,452.98 446.81,452.41 447.51,451.84 448.2,451.29 448.9,450.74 449.59,450.21 450.28,449.68 450.98,449.16 451.67,448.65 452.37,448.15 453.06,447.67 453.76,447.2 454.45,446.75 455.15,446.32 455.84,445.91 456.54,445.5 457.23,445.1 457.93,444.7 459.32,443.92 460.7,443.18 462.09,442.46 463.48,441.79 464.87,441.16 466.26,440.58 467.65,440.06 469.04,439.58 470.43,439.11 471.82,438.67 473.21,438.25 474.6,437.87 475.99,437.51 477.38,437.18 478.77,436.89 480.15,436.63 481.54,436.39 482.93,436.15 484.32,435.93 485.71,435.72 487.1,435.52 488.49,435.34 489.88,435.18 491.27,435.03 492.66,434.91 494.05,434.81 495.44,434.71 496.83,434.62 498.22,434.53 499.6,434.44 500.99,434.37 502.38,434.31 503.77,434.26 505.16,434.22 506.55,434.21 507.94,434.21 509.33,434.23 510.72,434.26 512.11,434.31 513.5,434.36 514.89,434.42 516.28,434.48 517.67,434.54 519.06,434.6 520.44,434.67 521.83,434.74 523.22,434.81 524.61,434.9 526,434.98 527.39,435.07 528.78,435.17 530.17,435.27 531.56,435.37 532.95,435.48 534.34,435.58 535.73,435.69 537.12,435.8 538.51,435.92 539.89,436.03 541.28,436.15 542.67,436.27 544.06,436.4 545.45,436.53 546.84,436.67 548.23,436.82 549.62,436.96 551.01,437.11 552.4,437.27 553.79,437.42 555.18,437.58 556.57,437.74 557.96,437.9 559.34,438.06 560.73,438.21 562.12,438.37 563.51,438.53 564.9,438.68 566.29,438.83 567.68,438.98 569.07,439.12 570.46,439.26 571.85,439.4 573.24,439.54 574.63,439.67 576.02,439.8 577.41,439.94 578.8,440.07 580.18,440.2 581.57,440.33 582.96,440.46 584.35,440.59 585.74,440.72 587.13,440.85 588.52,440.98 589.91,441.12 591.3,441.25 592.69,441.38 594.08,441.51 595.47,441.64 596.86,441.77 598.25,441.91 599.63,442.04 601.02,442.18 602.41,442.31 603.8,442.45 605.19,442.59 606.58,442.74 607.97,442.88 609.36,443.02 610.75,443.17 612.14,443.31 613.53,443.46 614.92,443.6 616.31,443.74 617.7,443.89 619.08,444.03 620.47,444.17 621.86,444.31 623.25,444.44 624.64,444.58 626.03,444.71 627.42,444.84 628.81,444.96 630.2,445.09 631.59,445.21 632.98,445.33 634.37,445.44 635.76,445.56 637.15,445.67 638.53,445.78 639.92,445.89 641.31,446 642.7,446.11 644.09,446.22 645.48,446.33 646.87,446.43 648.26,446.54 649.65,446.65 651.04,446.75 652.43,446.86 653.82,446.97 655.21,447.07 656.6,447.18 657.99,447.29 659.37,447.4 660.76,447.51 662.15,447.62 663.54,447.74 664.93,447.85 666.32,447.96 667.71,448.07 669.1,448.18 670.49,448.3 671.88,448.41 673.27,448.52 674.66,448.63 676.05,448.75 677.44,448.86 678.13,448.92"/>
</g>
<text class="t tk" x="400.87" y="554.87" text-anchor="middle">0</text>
<text class="t tk" x="470.34" y="554.87" text-anchor="middle">5</text>
<text class="t tk" x="539.8" y="554.87" text-anchor="middle">10</text>
<text class="t tk" x="609.26" y="554.87" text-anchor="middle">15</text>
<text class="t tk" x="678.73" y="554.87" text-anchor="middle">20</text>
<text class="t tk" x="398.37" y="546.47" text-anchor="end">50</text>
<text class="t tk" x="398.37" y="522.16" text-anchor="end">60</text>
<text class="t tk" x="398.37" y="497.85" text-anchor="end">70</text>
<text class="t tk" x="398.37" y="473.54" text-anchor="end">80</text>
<text class="t tk" x="398.37" y="449.23" text-anchor="end">90</text>
<text class="t tk" x="398.37" y="424.91" text-anchor="end">100</text>
<text class="t tk" x="398.37" y="400.6" text-anchor="end">110</text>
<text class="t tk" x="398.37" y="376.29" text-anchor="end">120</text>
<text class="t tk" x="398.37" y="351.98" text-anchor="end">130</text>
<text class="t tk" x="398.37" y="327.67" text-anchor="end">140</text>
<text class="t lb" x="539.2" y="568.07" text-anchor="middle">Time (Months)</text>
<text class="t lb" transform="translate(372.6,432.87) rotate(-90)" text-anchor="middle">Recovered or Removed Population (R(t))</text>
<rect x="594.8" y="327.6" width="78.7" height="79.2" fill="#fff" stroke="#484848" stroke-width="0.8"/>
<path class="c" style="stroke-width:2" stroke="#0000ff" stroke-dashoffset="9.1" d="M599.8,335.8H625.8"/>
<text class="t lg" x="628.4" y="339.8">R(0) = 80</text>
<path class="c" style="stroke-width:2" stroke="#008000" stroke-dashoffset="9.1" d="M599.8,348.46H625.8"/>
<text class="t lg" x="628.4" y="352.46">R(0) = 75</text>
<path class="c" style="stroke-width:2" stroke="#ff0000" stroke-dashoffset="9.1" d="M599.8,361.12H625.8"/>
<text class="t lg" x="628.4" y="365.12">R(0) = 70</text>
<path class="c" style="stroke-width:2" stroke="#00bfbf" stroke-dashoffset="9.1" d="M599.8,373.78H625.8"/>
<text class="t lg" x="628.4" y="377.78">R(0) = 65</text>
<path class="c" style="stroke-width:2" stroke="#bf00bf" stroke-dashoffset="9.1" d="M599.8,386.44H625.8"/>
<text class="t lg" x="628.4" y="390.44">R(0) = 60</text>
<path class="c" style="stroke-width:2" stroke="#bfbf00" stroke-dashoffset="9.1" d="M599.8,399.1H625.8"/>
<text class="t lg" x="628.4" y="403.1">R(0) = 55</text>
</g>
<text class="cap" y="275.8"><tspan x="1.8" textLength="23.3" lengthAdjust="spacing">(a)</tspan> <tspan x="31.8" textLength="80.7" lengthAdjust="spacing">Dynamics</tspan> <tspan x="119.4" textLength="16.2" lengthAdjust="spacing">of</tspan> <tspan x="140.1" textLength="90.5" lengthAdjust="spacing">susceptible</tspan> <tspan x="237.3" textLength="88.3" lengthAdjust="spacing">population</tspan></text>
<text class="cap" y="275.8"><tspan x="389.2" textLength="23.9" lengthAdjust="spacing">(b)</tspan> <tspan x="420.2" textLength="80.9" lengthAdjust="spacing">Dynamics</tspan> <tspan x="508.1" textLength="16.2" lengthAdjust="spacing">of</tspan> <tspan x="529.5" textLength="43.7" lengthAdjust="spacing">acute</tspan> <tspan x="579.9" textLength="88.3" lengthAdjust="spacing">population</tspan></text>
<text class="cap" y="595.6"><tspan x="17.4" textLength="22.1" lengthAdjust="spacing">(c)</tspan> <tspan x="46.4" textLength="80.9" lengthAdjust="spacing">Dynamics</tspan> <tspan x="134.3" textLength="16.2" lengthAdjust="spacing">of</tspan> <tspan x="155.3" textLength="59.3" lengthAdjust="spacing">chronic</tspan> <tspan x="221.6" textLength="87.8" lengthAdjust="spacing">population</tspan></text>
<text class="cap" y="595.6"><tspan x="372.4" textLength="23.9" lengthAdjust="spacing">(d)</tspan> <tspan x="403.5" textLength="80.9" lengthAdjust="spacing">Dynamics</tspan> <tspan x="491.4" textLength="16.1" lengthAdjust="spacing">of</tspan> <tspan x="511.7" textLength="77.9" lengthAdjust="spacing">recovered</tspan> <tspan x="596.5" textLength="87.8" lengthAdjust="spacing">population</tspan></text>
</svg></body></html>
